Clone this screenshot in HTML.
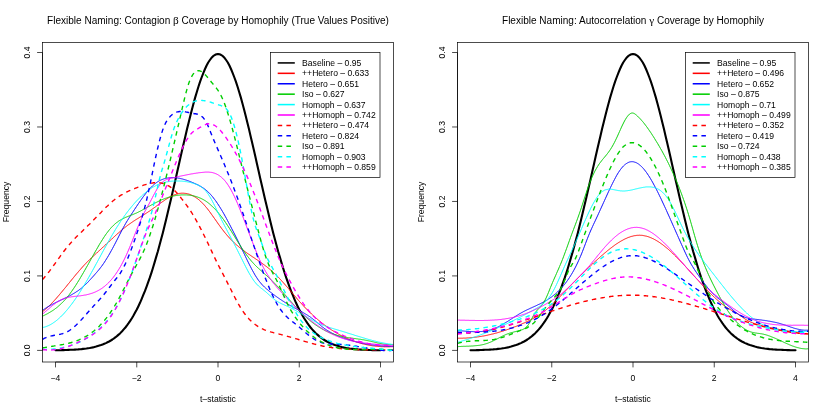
<!DOCTYPE html>
<html><head><meta charset="utf-8"><title>Flexible Naming Coverage</title>
<style>html,body{margin:0;padding:0;background:#fff}svg{display:block;font-family:"Liberation Sans",sans-serif;fill:#000}svg{will-change:transform}</style></head><body>
<svg width="830" height="415" viewBox="0 0 830 415">
<rect width="830" height="415" fill="#fff"/>
<defs><clipPath id="clip0"><rect x="42.5" y="42.5" width="351.0" height="319.5"/></clipPath><clipPath id="clip415"><rect x="457.5" y="42.5" width="351.0" height="319.5"/></clipPath></defs>
<g clip-path="url(#clip0)" fill="none" stroke-linejoin="round">
<path d="M55.5,350.2 L57.1,350.2 L58.8,350.2 L60.4,350.2 L62.0,350.1 L63.6,350.1 L65.2,350.0 L66.9,350.0 L68.5,349.9 L70.1,349.8 L71.8,349.8 L73.4,349.7 L75.0,349.6 L76.6,349.5 L78.2,349.4 L79.9,349.2 L81.5,349.1 L83.1,348.9 L84.8,348.7 L86.4,348.5 L88.0,348.2 L89.6,348.0 L91.2,347.7 L92.9,347.4 L94.5,347.0 L96.1,346.6 L97.8,346.1 L99.4,345.6 L101.0,345.1 L102.6,344.5 L104.3,343.8 L105.9,343.1 L107.5,342.3 L109.1,341.5 L110.8,340.5 L112.4,339.5 L114.0,338.4 L115.6,337.2 L117.2,335.9 L118.9,334.4 L120.5,332.9 L122.1,331.2 L123.7,329.4 L125.4,327.5 L127.0,325.4 L128.6,323.2 L130.2,320.8 L131.9,318.2 L133.5,315.5 L135.1,312.6 L136.8,309.5 L138.4,306.2 L140.0,302.8 L141.6,299.1 L143.2,295.2 L144.9,291.2 L146.5,286.9 L148.1,282.4 L149.8,277.7 L151.4,272.8 L153.0,267.7 L154.6,262.4 L156.2,256.9 L157.9,251.2 L159.5,245.3 L161.1,239.2 L162.8,232.9 L164.4,226.5 L166.0,220.0 L167.6,213.3 L169.2,206.4 L170.9,199.5 L172.5,192.5 L174.1,185.4 L175.8,178.3 L177.4,171.1 L179.0,163.9 L180.6,156.8 L182.2,149.7 L183.9,142.6 L185.5,135.7 L187.1,128.8 L188.8,122.1 L190.4,115.6 L192.0,109.3 L193.6,103.2 L195.2,97.4 L196.9,91.8 L198.5,86.5 L200.1,81.6 L201.8,77.0 L203.4,72.8 L205.0,69.0 L206.6,65.5 L208.2,62.5 L209.9,60.0 L211.5,57.8 L213.1,56.2 L214.8,55.0 L216.4,54.3 L218.0,54.0 L219.6,54.3 L221.2,55.0 L222.9,56.2 L224.5,57.8 L226.1,60.0 L227.8,62.5 L229.4,65.5 L231.0,69.0 L232.6,72.8 L234.2,77.0 L235.9,81.6 L237.5,86.5 L239.1,91.8 L240.8,97.4 L242.4,103.2 L244.0,109.3 L245.6,115.6 L247.2,122.1 L248.9,128.8 L250.5,135.7 L252.1,142.6 L253.8,149.7 L255.4,156.8 L257.0,163.9 L258.6,171.1 L260.2,178.3 L261.9,185.4 L263.5,192.5 L265.1,199.5 L266.8,206.4 L268.4,213.3 L270.0,220.0 L271.6,226.5 L273.2,232.9 L274.9,239.2 L276.5,245.3 L278.1,251.2 L279.8,256.9 L281.4,262.4 L283.0,267.7 L284.6,272.8 L286.2,277.7 L287.9,282.4 L289.5,286.9 L291.1,291.2 L292.8,295.2 L294.4,299.1 L296.0,302.8 L297.6,306.2 L299.2,309.5 L300.9,312.6 L302.5,315.5 L304.1,318.2 L305.8,320.8 L307.4,323.2 L309.0,325.4 L310.6,327.5 L312.2,329.4 L313.9,331.2 L315.5,332.9 L317.1,334.4 L318.8,335.9 L320.4,337.2 L322.0,338.4 L323.6,339.5 L325.2,340.5 L326.9,341.5 L328.5,342.3 L330.1,343.1 L331.8,343.8 L333.4,344.5 L335.0,345.1 L336.6,345.6 L338.2,346.1 L339.9,346.6 L341.5,347.0 L343.1,347.4 L344.8,347.7 L346.4,348.0 L348.0,348.2 L349.6,348.5 L351.2,348.7 L352.9,348.9 L354.5,349.1 L356.1,349.2 L357.8,349.4 L359.4,349.5 L361.0,349.6 L362.6,349.7 L364.2,349.8 L365.9,349.8 L367.5,349.9 L369.1,350.0 L370.8,350.0 L372.4,350.1 L374.0,350.1 L375.6,350.2 L377.2,350.2 L378.9,350.2 L380.5,350.2" stroke="#000" stroke-width="2.1" stroke-linecap="round"/>
<path d="M42.5,311.7 L43.5,310.9 L44.5,310.1 L45.5,309.2 L46.5,308.3 L47.5,307.4 L48.5,306.5 L49.5,305.5 L50.5,304.5 L51.5,303.5 L52.5,302.4 L53.5,301.4 L54.5,300.3 L55.5,299.2 L56.5,298.1 L57.5,296.9 L58.5,295.8 L59.5,294.6 L60.5,293.4 L61.5,292.2 L62.5,291.0 L63.5,289.8 L64.5,288.6 L65.5,287.4 L66.5,286.2 L67.5,284.9 L68.5,283.7 L69.5,282.5 L70.5,281.2 L71.5,280.0 L72.5,278.8 L73.5,277.6 L74.5,276.3 L75.5,275.1 L76.5,273.9 L77.5,272.8 L78.5,271.6 L79.5,270.4 L80.5,269.3 L81.5,268.1 L82.5,267.0 L83.5,265.9 L84.5,264.8 L85.5,263.8 L86.5,262.7 L87.5,261.7 L88.5,260.7 L89.5,259.7 L90.5,258.8 L91.5,257.8 L92.5,256.9 L93.5,255.9 L94.5,255.0 L95.5,254.1 L96.5,253.2 L97.5,252.2 L98.5,251.3 L99.5,250.4 L100.5,249.5 L101.5,248.6 L102.5,247.7 L103.5,246.7 L104.5,245.8 L105.5,244.9 L106.5,243.9 L107.5,243.0 L108.5,242.1 L109.5,241.1 L110.5,240.2 L111.5,239.3 L112.5,238.3 L113.5,237.4 L114.5,236.5 L115.5,235.6 L116.5,234.6 L117.5,233.7 L118.5,232.9 L119.5,232.0 L120.5,231.1 L121.5,230.3 L122.5,229.4 L123.5,228.6 L124.5,227.8 L125.5,227.0 L126.5,226.2 L127.5,225.4 L128.5,224.7 L129.5,224.0 L130.5,223.3 L131.5,222.6 L132.5,221.9 L133.5,221.2 L134.5,220.6 L135.5,219.9 L136.5,219.3 L137.5,218.7 L138.5,218.1 L139.5,217.4 L140.5,216.8 L141.5,216.2 L142.5,215.6 L143.5,214.9 L144.5,214.3 L145.5,213.7 L146.5,213.0 L147.5,212.4 L148.5,211.7 L149.5,211.1 L150.5,210.4 L151.5,209.7 L152.5,208.9 L153.5,208.2 L154.5,207.5 L155.5,206.8 L156.5,206.0 L157.5,205.3 L158.5,204.5 L159.5,203.8 L160.5,203.1 L161.5,202.4 L162.5,201.7 L163.5,201.0 L164.5,200.3 L165.5,199.6 L166.5,199.0 L167.5,198.4 L168.5,197.8 L169.5,197.2 L170.5,196.7 L171.5,196.1 L172.5,195.7 L173.5,195.2 L174.5,194.8 L175.5,194.5 L176.5,194.1 L177.5,193.9 L178.5,193.6 L179.5,193.4 L180.5,193.3 L181.5,193.2 L182.5,193.2 L183.5,193.2 L184.5,193.3 L185.5,193.4 L186.5,193.5 L187.5,193.8 L188.5,194.0 L189.5,194.3 L190.5,194.7 L191.5,195.1 L192.5,195.6 L193.5,196.1 L194.5,196.7 L195.5,197.3 L196.5,198.0 L197.5,198.7 L198.5,199.5 L199.5,200.3 L200.5,201.2 L201.5,202.2 L202.5,203.2 L203.5,204.2 L204.5,205.3 L205.5,206.5 L206.5,207.7 L207.5,208.9 L208.5,210.2 L209.5,211.5 L210.5,212.9 L211.5,214.3 L212.5,215.7 L213.5,217.1 L214.5,218.5 L215.5,219.9 L216.5,221.3 L217.5,222.8 L218.5,224.2 L219.5,225.6 L220.5,226.9 L221.5,228.3 L222.5,229.6 L223.5,230.9 L224.5,232.2 L225.5,233.4 L226.5,234.6 L227.5,235.8 L228.5,236.9 L229.5,238.0 L230.5,239.1 L231.5,240.1 L232.5,241.1 L233.5,242.1 L234.5,243.1 L235.5,244.0 L236.5,244.9 L237.5,245.7 L238.5,246.6 L239.5,247.4 L240.5,248.2 L241.5,249.0 L242.5,249.8 L243.5,250.5 L244.5,251.2 L245.5,252.0 L246.5,252.7 L247.5,253.4 L248.5,254.1 L249.5,254.7 L250.5,255.4 L251.5,256.1 L252.5,256.8 L253.5,257.4 L254.5,258.1 L255.5,258.8 L256.5,259.5 L257.5,260.1 L258.5,260.8 L259.5,261.5 L260.5,262.2 L261.5,262.9 L262.5,263.6 L263.5,264.4 L264.5,265.1 L265.5,265.9 L266.5,266.6 L267.5,267.4 L268.5,268.2 L269.5,269.0 L270.5,269.9 L271.5,270.7 L272.5,271.6 L273.5,272.5 L274.5,273.5 L275.5,274.4 L276.5,275.4 L277.5,276.4 L278.5,277.4 L279.5,278.5 L280.5,279.6 L281.5,280.7 L282.5,281.8 L283.5,282.9 L284.5,284.0 L285.5,285.2 L286.5,286.3 L287.5,287.5 L288.5,288.6 L289.5,289.8 L290.5,291.0 L291.5,292.2 L292.5,293.4 L293.5,294.5 L294.5,295.7 L295.5,296.9 L296.5,298.0 L297.5,299.2 L298.5,300.4 L299.5,301.5 L300.5,302.6 L301.5,303.7 L302.5,304.8 L303.5,305.9 L304.5,307.0 L305.5,308.0 L306.5,309.0 L307.5,310.0 L308.5,311.0 L309.5,312.0 L310.5,313.0 L311.5,314.0 L312.5,314.9 L313.5,315.8 L314.5,316.7 L315.5,317.6 L316.5,318.5 L317.5,319.3 L318.5,320.2 L319.5,321.0 L320.5,321.8 L321.5,322.6 L322.5,323.4 L323.5,324.2 L324.5,325.0 L325.5,325.7 L326.5,326.4 L327.5,327.1 L328.5,327.8 L329.5,328.5 L330.5,329.2 L331.5,329.9 L332.5,330.5 L333.5,331.1 L334.5,331.7 L335.5,332.4 L336.5,332.9 L337.5,333.5 L338.5,334.1 L339.5,334.6 L340.5,335.2 L341.5,335.7 L342.5,336.2 L343.5,336.7 L344.5,337.2 L345.5,337.6 L346.5,338.1 L347.5,338.6 L348.5,339.0 L349.5,339.4 L350.5,339.8 L351.5,340.2 L352.5,340.6 L353.5,341.0 L354.5,341.3 L355.5,341.7 L356.5,342.0 L357.5,342.3 L358.5,342.6 L359.5,342.9 L360.5,343.2 L361.5,343.5 L362.5,343.8 L363.5,344.0 L364.5,344.2 L365.5,344.5 L366.5,344.7 L367.5,344.9 L368.5,345.1 L369.5,345.3 L370.5,345.5 L371.5,345.6 L372.5,345.8 L373.5,345.9 L374.5,346.0 L375.5,346.2 L376.5,346.3 L377.5,346.4 L378.5,346.5 L379.5,346.5 L380.5,346.6 L381.5,346.7 L382.5,346.7 L383.5,346.7 L384.5,346.8 L385.5,346.8 L386.5,346.8 L387.5,346.8 L388.5,346.8 L389.5,346.8 L390.5,346.7 L391.5,346.7 L392.5,346.7 L393.5,346.6" stroke="#ff0000" stroke-width="0.95"/>
<path d="M42.5,310.4 L43.5,309.7 L44.5,309.0 L45.5,308.3 L46.5,307.7 L47.5,307.0 L48.5,306.4 L49.5,305.9 L50.5,305.3 L51.5,304.8 L52.5,304.2 L53.5,303.7 L54.5,303.2 L55.5,302.7 L56.5,302.2 L57.5,301.7 L58.5,301.2 L59.5,300.8 L60.5,300.3 L61.5,299.8 L62.5,299.4 L63.5,298.9 L64.5,298.4 L65.5,297.9 L66.5,297.4 L67.5,296.9 L68.5,296.4 L69.5,295.9 L70.5,295.3 L71.5,294.8 L72.5,294.2 L73.5,293.6 L74.5,293.0 L75.5,292.4 L76.5,291.7 L77.5,291.1 L78.5,290.4 L79.5,289.6 L80.5,288.9 L81.5,288.1 L82.5,287.2 L83.5,286.4 L84.5,285.5 L85.5,284.5 L86.5,283.6 L87.5,282.6 L88.5,281.5 L89.5,280.4 L90.5,279.3 L91.5,278.2 L92.5,277.1 L93.5,276.0 L94.5,274.9 L95.5,273.7 L96.5,272.6 L97.5,271.4 L98.5,270.2 L99.5,269.0 L100.5,267.7 L101.5,266.4 L102.5,265.0 L103.5,263.6 L104.5,262.1 L105.5,260.5 L106.5,258.9 L107.5,257.3 L108.5,255.6 L109.5,253.9 L110.5,252.1 L111.5,250.3 L112.5,248.5 L113.5,246.6 L114.5,244.7 L115.5,242.8 L116.5,240.8 L117.5,238.9 L118.5,236.9 L119.5,234.9 L120.5,233.0 L121.5,231.0 L122.5,229.1 L123.5,227.3 L124.5,225.5 L125.5,223.7 L126.5,222.0 L127.5,220.4 L128.5,218.8 L129.5,217.2 L130.5,215.7 L131.5,214.1 L132.5,212.6 L133.5,211.1 L134.5,209.5 L135.5,208.0 L136.5,206.5 L137.5,205.0 L138.5,203.5 L139.5,202.1 L140.5,200.6 L141.5,199.2 L142.5,197.8 L143.5,196.4 L144.5,195.1 L145.5,193.8 L146.5,192.5 L147.5,191.3 L148.5,190.1 L149.5,189.0 L150.5,187.9 L151.5,186.9 L152.5,185.9 L153.5,185.0 L154.5,184.1 L155.5,183.3 L156.5,182.6 L157.5,181.9 L158.5,181.3 L159.5,180.7 L160.5,180.2 L161.5,179.8 L162.5,179.4 L163.5,179.0 L164.5,178.7 L165.5,178.4 L166.5,178.2 L167.5,178.0 L168.5,177.9 L169.5,177.7 L170.5,177.7 L171.5,177.6 L172.5,177.6 L173.5,177.6 L174.5,177.7 L175.5,177.8 L176.5,177.9 L177.5,178.0 L178.5,178.2 L179.5,178.3 L180.5,178.6 L181.5,178.8 L182.5,179.0 L183.5,179.3 L184.5,179.6 L185.5,179.9 L186.5,180.2 L187.5,180.6 L188.5,180.9 L189.5,181.3 L190.5,181.7 L191.5,182.1 L192.5,182.5 L193.5,182.9 L194.5,183.4 L195.5,183.8 L196.5,184.3 L197.5,184.7 L198.5,185.2 L199.5,185.8 L200.5,186.3 L201.5,186.9 L202.5,187.5 L203.5,188.2 L204.5,188.9 L205.5,189.7 L206.5,190.5 L207.5,191.4 L208.5,192.3 L209.5,193.3 L210.5,194.4 L211.5,195.5 L212.5,196.7 L213.5,198.0 L214.5,199.3 L215.5,200.6 L216.5,202.0 L217.5,203.5 L218.5,205.0 L219.5,206.6 L220.5,208.2 L221.5,209.8 L222.5,211.5 L223.5,213.2 L224.5,215.0 L225.5,216.8 L226.5,218.6 L227.5,220.5 L228.5,222.4 L229.5,224.3 L230.5,226.2 L231.5,228.2 L232.5,230.1 L233.5,232.1 L234.5,234.0 L235.5,236.0 L236.5,238.0 L237.5,240.0 L238.5,242.1 L239.5,244.1 L240.5,246.2 L241.5,248.2 L242.5,250.3 L243.5,252.4 L244.5,254.5 L245.5,256.6 L246.5,258.7 L247.5,260.8 L248.5,262.8 L249.5,264.8 L250.5,266.7 L251.5,268.7 L252.5,270.5 L253.5,272.3 L254.5,274.1 L255.5,275.8 L256.5,277.3 L257.5,278.9 L258.5,280.3 L259.5,281.6 L260.5,282.8 L261.5,284.0 L262.5,285.1 L263.5,286.1 L264.5,287.1 L265.5,288.0 L266.5,288.9 L267.5,289.7 L268.5,290.6 L269.5,291.4 L270.5,292.2 L271.5,292.9 L272.5,293.7 L273.5,294.5 L274.5,295.2 L275.5,296.0 L276.5,296.7 L277.5,297.4 L278.5,298.1 L279.5,298.8 L280.5,299.5 L281.5,300.1 L282.5,300.8 L283.5,301.4 L284.5,302.1 L285.5,302.7 L286.5,303.3 L287.5,303.9 L288.5,304.5 L289.5,305.1 L290.5,305.7 L291.5,306.2 L292.5,306.8 L293.5,307.3 L294.5,307.9 L295.5,308.4 L296.5,309.0 L297.5,309.5 L298.5,310.0 L299.5,310.6 L300.5,311.1 L301.5,311.7 L302.5,312.2 L303.5,312.8 L304.5,313.4 L305.5,314.0 L306.5,314.6 L307.5,315.2 L308.5,315.9 L309.5,316.5 L310.5,317.2 L311.5,318.0 L312.5,318.7 L313.5,319.5 L314.5,320.3 L315.5,321.1 L316.5,322.0 L317.5,322.8 L318.5,323.7 L319.5,324.5 L320.5,325.3 L321.5,326.2 L322.5,327.0 L323.5,327.7 L324.5,328.5 L325.5,329.2 L326.5,329.9 L327.5,330.5 L328.5,331.1 L329.5,331.7 L330.5,332.3 L331.5,332.9 L332.5,333.4 L333.5,333.9 L334.5,334.4 L335.5,334.9 L336.5,335.3 L337.5,335.8 L338.5,336.2 L339.5,336.6 L340.5,337.0 L341.5,337.3 L342.5,337.7 L343.5,338.0 L344.5,338.4 L345.5,338.7 L346.5,339.0 L347.5,339.4 L348.5,339.7 L349.5,340.0 L350.5,340.3 L351.5,340.6 L352.5,340.8 L353.5,341.1 L354.5,341.4 L355.5,341.6 L356.5,341.9 L357.5,342.1 L358.5,342.4 L359.5,342.6 L360.5,342.8 L361.5,343.0 L362.5,343.2 L363.5,343.4 L364.5,343.6 L365.5,343.8 L366.5,344.0 L367.5,344.1 L368.5,344.3 L369.5,344.5 L370.5,344.6 L371.5,344.8 L372.5,344.9 L373.5,345.0 L374.5,345.1 L375.5,345.3 L376.5,345.4 L377.5,345.5 L378.5,345.6 L379.5,345.7 L380.5,345.8 L381.5,345.9 L382.5,345.9 L383.5,346.0 L384.5,346.1 L385.5,346.1 L386.5,346.2 L387.5,346.2 L388.5,346.3 L389.5,346.3 L390.5,346.3 L391.5,346.4 L392.5,346.4 L393.5,346.4" stroke="#0000ff" stroke-width="0.95"/>
<path d="M42.5,316.1 L43.5,315.7 L44.5,315.2 L45.5,314.7 L46.5,314.2 L47.5,313.7 L48.5,313.1 L49.5,312.5 L50.5,311.9 L51.5,311.3 L52.5,310.7 L53.5,310.0 L54.5,309.3 L55.5,308.5 L56.5,307.8 L57.5,307.0 L58.5,306.1 L59.5,305.2 L60.5,304.3 L61.5,303.4 L62.5,302.4 L63.5,301.4 L64.5,300.3 L65.5,299.2 L66.5,298.0 L67.5,296.8 L68.5,295.6 L69.5,294.3 L70.5,292.9 L71.5,291.6 L72.5,290.1 L73.5,288.7 L74.5,287.2 L75.5,285.7 L76.5,284.1 L77.5,282.5 L78.5,280.9 L79.5,279.3 L80.5,277.6 L81.5,275.9 L82.5,274.2 L83.5,272.5 L84.5,270.7 L85.5,269.0 L86.5,267.2 L87.5,265.5 L88.5,263.7 L89.5,261.9 L90.5,260.1 L91.5,258.3 L92.5,256.6 L93.5,254.8 L94.5,253.0 L95.5,251.2 L96.5,249.5 L97.5,247.8 L98.5,246.0 L99.5,244.3 L100.5,242.7 L101.5,241.1 L102.5,239.5 L103.5,237.9 L104.5,236.4 L105.5,234.9 L106.5,233.5 L107.5,232.2 L108.5,230.9 L109.5,229.6 L110.5,228.5 L111.5,227.3 L112.5,226.3 L113.5,225.3 L114.5,224.4 L115.5,223.5 L116.5,222.7 L117.5,222.0 L118.5,221.2 L119.5,220.6 L120.5,220.0 L121.5,219.4 L122.5,218.9 L123.5,218.4 L124.5,217.9 L125.5,217.4 L126.5,217.0 L127.5,216.6 L128.5,216.2 L129.5,215.8 L130.5,215.4 L131.5,215.0 L132.5,214.7 L133.5,214.3 L134.5,213.8 L135.5,213.4 L136.5,213.0 L137.5,212.5 L138.5,212.0 L139.5,211.5 L140.5,211.0 L141.5,210.5 L142.5,209.9 L143.5,209.4 L144.5,208.9 L145.5,208.3 L146.5,207.7 L147.5,207.2 L148.5,206.6 L149.5,206.1 L150.5,205.5 L151.5,204.9 L152.5,204.4 L153.5,203.9 L154.5,203.3 L155.5,202.8 L156.5,202.3 L157.5,201.8 L158.5,201.3 L159.5,200.8 L160.5,200.3 L161.5,199.9 L162.5,199.5 L163.5,199.1 L164.5,198.7 L165.5,198.3 L166.5,198.0 L167.5,197.6 L168.5,197.3 L169.5,197.0 L170.5,196.7 L171.5,196.5 L172.5,196.2 L173.5,196.0 L174.5,195.8 L175.5,195.6 L176.5,195.4 L177.5,195.3 L178.5,195.2 L179.5,195.1 L180.5,195.0 L181.5,194.9 L182.5,194.9 L183.5,194.9 L184.5,194.9 L185.5,194.9 L186.5,194.9 L187.5,195.0 L188.5,195.1 L189.5,195.2 L190.5,195.3 L191.5,195.5 L192.5,195.7 L193.5,195.9 L194.5,196.1 L195.5,196.4 L196.5,196.7 L197.5,197.0 L198.5,197.4 L199.5,197.8 L200.5,198.2 L201.5,198.7 L202.5,199.2 L203.5,199.7 L204.5,200.3 L205.5,200.9 L206.5,201.6 L207.5,202.3 L208.5,203.1 L209.5,203.9 L210.5,204.8 L211.5,205.7 L212.5,206.6 L213.5,207.6 L214.5,208.6 L215.5,209.6 L216.5,210.7 L217.5,211.9 L218.5,213.1 L219.5,214.3 L220.5,215.5 L221.5,216.8 L222.5,218.2 L223.5,219.5 L224.5,221.0 L225.5,222.4 L226.5,223.9 L227.5,225.4 L228.5,226.9 L229.5,228.5 L230.5,230.0 L231.5,231.6 L232.5,233.2 L233.5,234.8 L234.5,236.4 L235.5,238.1 L236.5,239.7 L237.5,241.3 L238.5,242.9 L239.5,244.4 L240.5,246.0 L241.5,247.6 L242.5,249.1 L243.5,250.6 L244.5,252.0 L245.5,253.5 L246.5,254.9 L247.5,256.2 L248.5,257.5 L249.5,258.8 L250.5,260.0 L251.5,261.2 L252.5,262.3 L253.5,263.4 L254.5,264.5 L255.5,265.5 L256.5,266.5 L257.5,267.4 L258.5,268.4 L259.5,269.3 L260.5,270.2 L261.5,271.1 L262.5,272.0 L263.5,272.9 L264.5,273.8 L265.5,274.7 L266.5,275.5 L267.5,276.4 L268.5,277.4 L269.5,278.3 L270.5,279.2 L271.5,280.2 L272.5,281.2 L273.5,282.2 L274.5,283.2 L275.5,284.2 L276.5,285.3 L277.5,286.4 L278.5,287.5 L279.5,288.6 L280.5,289.7 L281.5,290.8 L282.5,291.9 L283.5,293.0 L284.5,294.2 L285.5,295.3 L286.5,296.5 L287.5,297.6 L288.5,298.8 L289.5,299.9 L290.5,301.1 L291.5,302.2 L292.5,303.3 L293.5,304.4 L294.5,305.5 L295.5,306.6 L296.5,307.7 L297.5,308.8 L298.5,309.9 L299.5,310.9 L300.5,311.9 L301.5,312.9 L302.5,313.9 L303.5,314.9 L304.5,315.8 L305.5,316.7 L306.5,317.6 L307.5,318.5 L308.5,319.4 L309.5,320.2 L310.5,321.0 L311.5,321.8 L312.5,322.6 L313.5,323.3 L314.5,324.1 L315.5,324.8 L316.5,325.5 L317.5,326.1 L318.5,326.8 L319.5,327.4 L320.5,328.0 L321.5,328.6 L322.5,329.2 L323.5,329.7 L324.5,330.3 L325.5,330.8 L326.5,331.3 L327.5,331.7 L328.5,332.2 L329.5,332.6 L330.5,333.0 L331.5,333.4 L332.5,333.8 L333.5,334.1 L334.5,334.5 L335.5,334.8 L336.5,335.1 L337.5,335.4 L338.5,335.7 L339.5,335.9 L340.5,336.1 L341.5,336.4 L342.5,336.6 L343.5,336.8 L344.5,337.0 L345.5,337.2 L346.5,337.3 L347.5,337.5 L348.5,337.7 L349.5,337.8 L350.5,337.9 L351.5,338.1 L352.5,338.2 L353.5,338.4 L354.5,338.5 L355.5,338.6 L356.5,338.8 L357.5,338.9 L358.5,339.1 L359.5,339.2 L360.5,339.3 L361.5,339.5 L362.5,339.7 L363.5,339.8 L364.5,340.0 L365.5,340.2 L366.5,340.4 L367.5,340.6 L368.5,340.8 L369.5,341.0 L370.5,341.2 L371.5,341.5 L372.5,341.7 L373.5,341.9 L374.5,342.2 L375.5,342.4 L376.5,342.6 L377.5,342.9 L378.5,343.1 L379.5,343.3 L380.5,343.5 L381.5,343.7 L382.5,343.9 L383.5,344.1 L384.5,344.2 L385.5,344.3 L386.5,344.5 L387.5,344.6 L388.5,344.6 L389.5,344.7 L390.5,344.7 L391.5,344.7 L392.5,344.7 L393.5,344.6" stroke="#00cd00" stroke-width="0.95"/>
<path d="M42.5,327.5 L43.5,327.3 L44.5,327.1 L45.5,326.8 L46.5,326.4 L47.5,326.0 L48.5,325.6 L49.5,325.1 L50.5,324.6 L51.5,324.0 L52.5,323.4 L53.5,322.7 L54.5,322.0 L55.5,321.3 L56.5,320.5 L57.5,319.7 L58.5,318.8 L59.5,317.9 L60.5,317.0 L61.5,316.0 L62.5,315.0 L63.5,314.0 L64.5,312.9 L65.5,311.7 L66.5,310.6 L67.5,309.4 L68.5,308.2 L69.5,306.9 L70.5,305.6 L71.5,304.3 L72.5,303.0 L73.5,301.6 L74.5,300.2 L75.5,298.8 L76.5,297.3 L77.5,295.8 L78.5,294.3 L79.5,292.7 L80.5,291.2 L81.5,289.6 L82.5,287.9 L83.5,286.3 L84.5,284.6 L85.5,282.9 L86.5,281.2 L87.5,279.5 L88.5,277.7 L89.5,276.0 L90.5,274.2 L91.5,272.4 L92.5,270.6 L93.5,268.8 L94.5,267.0 L95.5,265.1 L96.5,263.3 L97.5,261.5 L98.5,259.6 L99.5,257.8 L100.5,255.9 L101.5,254.1 L102.5,252.2 L103.5,250.4 L104.5,248.6 L105.5,246.8 L106.5,245.0 L107.5,243.2 L108.5,241.4 L109.5,239.6 L110.5,237.9 L111.5,236.2 L112.5,234.4 L113.5,232.8 L114.5,231.1 L115.5,229.4 L116.5,227.8 L117.5,226.2 L118.5,224.7 L119.5,223.1 L120.5,221.6 L121.5,220.1 L122.5,218.7 L123.5,217.3 L124.5,215.8 L125.5,214.5 L126.5,213.1 L127.5,211.8 L128.5,210.5 L129.5,209.2 L130.5,208.0 L131.5,206.8 L132.5,205.6 L133.5,204.4 L134.5,203.2 L135.5,202.1 L136.5,201.0 L137.5,200.0 L138.5,199.0 L139.5,198.0 L140.5,197.0 L141.5,196.0 L142.5,195.1 L143.5,194.2 L144.5,193.4 L145.5,192.5 L146.5,191.7 L147.5,190.9 L148.5,190.2 L149.5,189.5 L150.5,188.8 L151.5,188.1 L152.5,187.5 L153.5,186.9 L154.5,186.4 L155.5,185.8 L156.5,185.3 L157.5,184.8 L158.5,184.4 L159.5,184.0 L160.5,183.6 L161.5,183.3 L162.5,183.0 L163.5,182.7 L164.5,182.4 L165.5,182.2 L166.5,181.9 L167.5,181.8 L168.5,181.6 L169.5,181.4 L170.5,181.3 L171.5,181.2 L172.5,181.1 L173.5,181.1 L174.5,181.0 L175.5,181.0 L176.5,181.0 L177.5,181.0 L178.5,181.0 L179.5,181.0 L180.5,181.1 L181.5,181.1 L182.5,181.2 L183.5,181.3 L184.5,181.4 L185.5,181.6 L186.5,181.7 L187.5,181.9 L188.5,182.1 L189.5,182.3 L190.5,182.5 L191.5,182.8 L192.5,183.1 L193.5,183.4 L194.5,183.7 L195.5,184.1 L196.5,184.4 L197.5,184.9 L198.5,185.3 L199.5,185.9 L200.5,186.4 L201.5,187.1 L202.5,187.9 L203.5,188.7 L204.5,189.7 L205.5,190.7 L206.5,191.9 L207.5,193.2 L208.5,194.6 L209.5,196.2 L210.5,197.9 L211.5,199.6 L212.5,201.5 L213.5,203.4 L214.5,205.4 L215.5,207.4 L216.5,209.5 L217.5,211.6 L218.5,213.7 L219.5,215.7 L220.5,217.7 L221.5,219.7 L222.5,221.7 L223.5,223.6 L224.5,225.6 L225.5,227.5 L226.5,229.4 L227.5,231.3 L228.5,233.2 L229.5,235.1 L230.5,237.0 L231.5,238.9 L232.5,240.7 L233.5,242.6 L234.5,244.6 L235.5,246.5 L236.5,248.4 L237.5,250.4 L238.5,252.4 L239.5,254.4 L240.5,256.4 L241.5,258.4 L242.5,260.4 L243.5,262.4 L244.5,264.4 L245.5,266.4 L246.5,268.3 L247.5,270.2 L248.5,272.1 L249.5,273.8 L250.5,275.5 L251.5,277.2 L252.5,278.7 L253.5,280.2 L254.5,281.6 L255.5,282.8 L256.5,284.0 L257.5,285.0 L258.5,286.0 L259.5,286.8 L260.5,287.7 L261.5,288.5 L262.5,289.2 L263.5,290.0 L264.5,290.8 L265.5,291.6 L266.5,292.5 L267.5,293.4 L268.5,294.3 L269.5,295.2 L270.5,296.1 L271.5,297.0 L272.5,297.9 L273.5,298.7 L274.5,299.6 L275.5,300.3 L276.5,301.0 L277.5,301.6 L278.5,302.2 L279.5,302.7 L280.5,303.2 L281.5,303.7 L282.5,304.2 L283.5,304.6 L284.5,305.0 L285.5,305.5 L286.5,305.9 L287.5,306.3 L288.5,306.8 L289.5,307.3 L290.5,307.8 L291.5,308.3 L292.5,308.8 L293.5,309.4 L294.5,309.9 L295.5,310.5 L296.5,311.0 L297.5,311.6 L298.5,312.2 L299.5,312.8 L300.5,313.3 L301.5,313.9 L302.5,314.5 L303.5,315.1 L304.5,315.7 L305.5,316.3 L306.5,316.9 L307.5,317.4 L308.5,318.0 L309.5,318.6 L310.5,319.1 L311.5,319.7 L312.5,320.2 L313.5,320.8 L314.5,321.3 L315.5,321.8 L316.5,322.3 L317.5,322.8 L318.5,323.3 L319.5,323.7 L320.5,324.1 L321.5,324.6 L322.5,325.0 L323.5,325.4 L324.5,325.7 L325.5,326.1 L326.5,326.5 L327.5,326.8 L328.5,327.1 L329.5,327.5 L330.5,327.8 L331.5,328.1 L332.5,328.4 L333.5,328.7 L334.5,329.0 L335.5,329.3 L336.5,329.6 L337.5,329.9 L338.5,330.2 L339.5,330.5 L340.5,330.8 L341.5,331.1 L342.5,331.4 L343.5,331.7 L344.5,332.0 L345.5,332.3 L346.5,332.6 L347.5,333.0 L348.5,333.3 L349.5,333.6 L350.5,333.9 L351.5,334.2 L352.5,334.5 L353.5,334.8 L354.5,335.2 L355.5,335.5 L356.5,335.8 L357.5,336.1 L358.5,336.4 L359.5,336.7 L360.5,337.0 L361.5,337.3 L362.5,337.6 L363.5,337.9 L364.5,338.2 L365.5,338.5 L366.5,338.8 L367.5,339.1 L368.5,339.4 L369.5,339.7 L370.5,339.9 L371.5,340.2 L372.5,340.5 L373.5,340.7 L374.5,341.0 L375.5,341.2 L376.5,341.5 L377.5,341.7 L378.5,342.0 L379.5,342.2 L380.5,342.4 L381.5,342.6 L382.5,342.8 L383.5,343.0 L384.5,343.2 L385.5,343.4 L386.5,343.5 L387.5,343.7 L388.5,343.9 L389.5,344.0 L390.5,344.1 L391.5,344.3 L392.5,344.4 L393.5,344.5" stroke="#00ffff" stroke-width="0.95"/>
<path d="M42.5,314.0 L43.5,313.2 L44.5,312.4 L45.5,311.5 L46.5,310.7 L47.5,309.8 L48.5,309.0 L49.5,308.1 L50.5,307.2 L51.5,306.4 L52.5,305.5 L53.5,304.7 L54.5,304.0 L55.5,303.2 L56.5,302.5 L57.5,301.8 L58.5,301.2 L59.5,300.6 L60.5,300.0 L61.5,299.6 L62.5,299.1 L63.5,298.7 L64.5,298.4 L65.5,298.1 L66.5,297.8 L67.5,297.6 L68.5,297.3 L69.5,297.1 L70.5,297.0 L71.5,296.8 L72.5,296.7 L73.5,296.6 L74.5,296.4 L75.5,296.3 L76.5,296.2 L77.5,296.1 L78.5,296.0 L79.5,295.9 L80.5,295.8 L81.5,295.6 L82.5,295.5 L83.5,295.3 L84.5,295.1 L85.5,295.0 L86.5,294.8 L87.5,294.5 L88.5,294.3 L89.5,294.0 L90.5,293.7 L91.5,293.4 L92.5,293.1 L93.5,292.7 L94.5,292.3 L95.5,291.9 L96.5,291.4 L97.5,290.9 L98.5,290.4 L99.5,289.8 L100.5,289.2 L101.5,288.6 L102.5,287.9 L103.5,287.1 L104.5,286.4 L105.5,285.5 L106.5,284.7 L107.5,283.7 L108.5,282.8 L109.5,281.7 L110.5,280.6 L111.5,279.5 L112.5,278.3 L113.5,277.1 L114.5,275.7 L115.5,274.4 L116.5,272.9 L117.5,271.4 L118.5,269.8 L119.5,268.2 L120.5,266.5 L121.5,264.7 L122.5,262.8 L123.5,260.9 L124.5,258.9 L125.5,256.8 L126.5,254.7 L127.5,252.4 L128.5,250.1 L129.5,247.7 L130.5,245.3 L131.5,242.8 L132.5,240.3 L133.5,237.8 L134.5,235.3 L135.5,232.8 L136.5,230.3 L137.5,227.8 L138.5,225.4 L139.5,223.0 L140.5,220.7 L141.5,218.4 L142.5,216.2 L143.5,214.2 L144.5,212.2 L145.5,210.3 L146.5,208.5 L147.5,206.7 L148.5,204.9 L149.5,203.1 L150.5,201.2 L151.5,199.3 L152.5,197.4 L153.5,195.4 L154.5,193.6 L155.5,191.7 L156.5,190.0 L157.5,188.3 L158.5,186.8 L159.5,185.3 L160.5,184.0 L161.5,182.9 L162.5,181.9 L163.5,181.2 L164.5,180.5 L165.5,180.0 L166.5,179.6 L167.5,179.2 L168.5,178.9 L169.5,178.7 L170.5,178.4 L171.5,178.2 L172.5,178.0 L173.5,177.7 L174.5,177.5 L175.5,177.2 L176.5,177.0 L177.5,176.8 L178.5,176.6 L179.5,176.3 L180.5,176.1 L181.5,175.9 L182.5,175.7 L183.5,175.5 L184.5,175.3 L185.5,175.1 L186.5,174.9 L187.5,174.7 L188.5,174.5 L189.5,174.3 L190.5,174.1 L191.5,173.9 L192.5,173.8 L193.5,173.6 L194.5,173.4 L195.5,173.3 L196.5,173.1 L197.5,173.0 L198.5,172.8 L199.5,172.7 L200.5,172.6 L201.5,172.5 L202.5,172.4 L203.5,172.3 L204.5,172.2 L205.5,172.1 L206.5,172.1 L207.5,172.1 L208.5,172.1 L209.5,172.2 L210.5,172.3 L211.5,172.4 L212.5,172.6 L213.5,172.9 L214.5,173.2 L215.5,173.6 L216.5,174.0 L217.5,174.5 L218.5,175.1 L219.5,175.8 L220.5,176.5 L221.5,177.3 L222.5,178.2 L223.5,179.2 L224.5,180.3 L225.5,181.5 L226.5,182.8 L227.5,184.2 L228.5,185.7 L229.5,187.3 L230.5,189.0 L231.5,190.8 L232.5,192.7 L233.5,194.7 L234.5,196.7 L235.5,198.9 L236.5,201.1 L237.5,203.4 L238.5,205.8 L239.5,208.2 L240.5,210.7 L241.5,213.2 L242.5,215.8 L243.5,218.4 L244.5,221.0 L245.5,223.6 L246.5,226.3 L247.5,229.0 L248.5,231.7 L249.5,234.3 L250.5,237.0 L251.5,239.6 L252.5,242.2 L253.5,244.8 L254.5,247.4 L255.5,249.9 L256.5,252.4 L257.5,254.8 L258.5,257.1 L259.5,259.4 L260.5,261.6 L261.5,263.7 L262.5,265.8 L263.5,267.7 L264.5,269.6 L265.5,271.3 L266.5,273.0 L267.5,274.7 L268.5,276.2 L269.5,277.7 L270.5,279.2 L271.5,280.5 L272.5,281.9 L273.5,283.2 L274.5,284.4 L275.5,285.6 L276.5,286.8 L277.5,288.0 L278.5,289.1 L279.5,290.2 L280.5,291.3 L281.5,292.5 L282.5,293.5 L283.5,294.6 L284.5,295.7 L285.5,296.8 L286.5,297.8 L287.5,298.9 L288.5,299.9 L289.5,301.0 L290.5,302.0 L291.5,303.0 L292.5,304.0 L293.5,305.0 L294.5,306.0 L295.5,307.0 L296.5,307.9 L297.5,308.9 L298.5,309.8 L299.5,310.7 L300.5,311.7 L301.5,312.6 L302.5,313.5 L303.5,314.4 L304.5,315.2 L305.5,316.1 L306.5,316.9 L307.5,317.8 L308.5,318.6 L309.5,319.4 L310.5,320.2 L311.5,321.0 L312.5,321.8 L313.5,322.5 L314.5,323.3 L315.5,324.0 L316.5,324.7 L317.5,325.4 L318.5,326.1 L319.5,326.8 L320.5,327.5 L321.5,328.1 L322.5,328.8 L323.5,329.4 L324.5,330.0 L325.5,330.6 L326.5,331.2 L327.5,331.7 L328.5,332.3 L329.5,332.8 L330.5,333.3 L331.5,333.8 L332.5,334.3 L333.5,334.8 L334.5,335.2 L335.5,335.7 L336.5,336.1 L337.5,336.5 L338.5,336.9 L339.5,337.3 L340.5,337.6 L341.5,338.0 L342.5,338.3 L343.5,338.6 L344.5,339.0 L345.5,339.3 L346.5,339.5 L347.5,339.8 L348.5,340.1 L349.5,340.3 L350.5,340.6 L351.5,340.8 L352.5,341.0 L353.5,341.2 L354.5,341.4 L355.5,341.6 L356.5,341.8 L357.5,342.0 L358.5,342.1 L359.5,342.3 L360.5,342.5 L361.5,342.6 L362.5,342.7 L363.5,342.9 L364.5,343.0 L365.5,343.1 L366.5,343.3 L367.5,343.4 L368.5,343.5 L369.5,343.6 L370.5,343.7 L371.5,343.8 L372.5,343.9 L373.5,344.0 L374.5,344.1 L375.5,344.2 L376.5,344.3 L377.5,344.4 L378.5,344.5 L379.5,344.6 L380.5,344.7 L381.5,344.8 L382.5,344.9 L383.5,345.0 L384.5,345.1 L385.5,345.2 L386.5,345.3 L387.5,345.4 L388.5,345.5 L389.5,345.6 L390.5,345.7 L391.5,345.9 L392.5,346.0 L393.5,346.1" stroke="#ff00ff" stroke-width="0.95"/>
<path d="M42.5,279.6 L43.5,278.5 L44.5,277.3 L45.5,276.1 L46.5,274.9 L47.5,273.7 L48.5,272.4 L49.5,271.1 L50.5,269.7 L51.5,268.4 L52.5,267.0 L53.5,265.6 L54.5,264.3 L55.5,262.9 L56.5,261.5 L57.5,260.1 L58.5,258.7 L59.5,257.3 L60.5,255.9 L61.5,254.5 L62.5,253.2 L63.5,251.8 L64.5,250.5 L65.5,249.2 L66.5,248.0 L67.5,246.7 L68.5,245.5 L69.5,244.4 L70.5,243.2 L71.5,242.1 L72.5,241.0 L73.5,239.9 L74.5,238.9 L75.5,237.8 L76.5,236.8 L77.5,235.8 L78.5,234.8 L79.5,233.8 L80.5,232.8 L81.5,231.9 L82.5,230.9 L83.5,229.9 L84.5,229.0 L85.5,228.0 L86.5,227.1 L87.5,226.1 L88.5,225.1 L89.5,224.2 L90.5,223.2 L91.5,222.2 L92.5,221.2 L93.5,220.1 L94.5,219.1 L95.5,218.1 L96.5,217.1 L97.5,216.0 L98.5,215.0 L99.5,213.9 L100.5,212.9 L101.5,211.9 L102.5,210.8 L103.5,209.8 L104.5,208.8 L105.5,207.8 L106.5,206.8 L107.5,205.9 L108.5,204.9 L109.5,204.0 L110.5,203.1 L111.5,202.2 L112.5,201.3 L113.5,200.5 L114.5,199.7 L115.5,198.9 L116.5,198.1 L117.5,197.4 L118.5,196.7 L119.5,196.1 L120.5,195.4 L121.5,194.8 L122.5,194.3 L123.5,193.7 L124.5,193.1 L125.5,192.6 L126.5,192.1 L127.5,191.6 L128.5,191.2 L129.5,190.7 L130.5,190.3 L131.5,189.8 L132.5,189.4 L133.5,189.0 L134.5,188.6 L135.5,188.2 L136.5,187.8 L137.5,187.4 L138.5,187.1 L139.5,186.7 L140.5,186.3 L141.5,185.9 L142.5,185.6 L143.5,185.2 L144.5,184.9 L145.5,184.6 L146.5,184.3 L147.5,184.0 L148.5,183.7 L149.5,183.5 L150.5,183.3 L151.5,183.1 L152.5,183.0 L153.5,182.8 L154.5,182.7 L155.5,182.7 L156.5,182.6 L157.5,182.7 L158.5,182.7 L159.5,182.8 L160.5,182.9 L161.5,183.1 L162.5,183.3 L163.5,183.6 L164.5,183.9 L165.5,184.3 L166.5,184.8 L167.5,185.3 L168.5,185.8 L169.5,186.4 L170.5,187.1 L171.5,187.8 L172.5,188.6 L173.5,189.5 L174.5,190.4 L175.5,191.5 L176.5,192.5 L177.5,193.7 L178.5,194.8 L179.5,196.0 L180.5,197.3 L181.5,198.6 L182.5,199.8 L183.5,201.1 L184.5,202.4 L185.5,203.8 L186.5,205.1 L187.5,206.5 L188.5,207.9 L189.5,209.4 L190.5,210.9 L191.5,212.4 L192.5,214.0 L193.5,215.7 L194.5,217.4 L195.5,219.1 L196.5,220.9 L197.5,222.7 L198.5,224.5 L199.5,226.4 L200.5,228.3 L201.5,230.2 L202.5,232.2 L203.5,234.2 L204.5,236.2 L205.5,238.3 L206.5,240.3 L207.5,242.4 L208.5,244.5 L209.5,246.7 L210.5,248.8 L211.5,250.9 L212.5,253.1 L213.5,255.2 L214.5,257.3 L215.5,259.4 L216.5,261.5 L217.5,263.5 L218.5,265.5 L219.5,267.4 L220.5,269.4 L221.5,271.3 L222.5,273.2 L223.5,275.1 L224.5,277.0 L225.5,279.0 L226.5,280.9 L227.5,282.9 L228.5,284.8 L229.5,286.8 L230.5,288.8 L231.5,290.8 L232.5,292.8 L233.5,294.8 L234.5,296.8 L235.5,298.7 L236.5,300.6 L237.5,302.4 L238.5,304.2 L239.5,305.9 L240.5,307.6 L241.5,309.2 L242.5,310.7 L243.5,312.1 L244.5,313.5 L245.5,314.8 L246.5,316.1 L247.5,317.2 L248.5,318.4 L249.5,319.4 L250.5,320.4 L251.5,321.4 L252.5,322.3 L253.5,323.1 L254.5,323.9 L255.5,324.7 L256.5,325.4 L257.5,326.1 L258.5,326.7 L259.5,327.3 L260.5,327.9 L261.5,328.4 L262.5,328.9 L263.5,329.3 L264.5,329.8 L265.5,330.2 L266.5,330.5 L267.5,330.9 L268.5,331.2 L269.5,331.5 L270.5,331.9 L271.5,332.1 L272.5,332.4 L273.5,332.7 L274.5,332.9 L275.5,333.2 L276.5,333.4 L277.5,333.7 L278.5,333.9 L279.5,334.2 L280.5,334.4 L281.5,334.7 L282.5,334.9 L283.5,335.2 L284.5,335.5 L285.5,335.8 L286.5,336.0 L287.5,336.3 L288.5,336.6 L289.5,336.9 L290.5,337.2 L291.5,337.5 L292.5,337.8 L293.5,338.1 L294.5,338.3 L295.5,338.6 L296.5,338.9 L297.5,339.2 L298.5,339.5 L299.5,339.8 L300.5,340.1 L301.5,340.4 L302.5,340.7 L303.5,341.0 L304.5,341.3 L305.5,341.6 L306.5,341.9 L307.5,342.2 L308.5,342.5 L309.5,342.7 L310.5,343.0 L311.5,343.3 L312.5,343.6 L313.5,343.8 L314.5,344.1 L315.5,344.3 L316.5,344.6 L317.5,344.8 L318.5,345.1 L319.5,345.3 L320.5,345.5 L321.5,345.7 L322.5,346.0 L323.5,346.2 L324.5,346.4 L325.5,346.5 L326.5,346.7 L327.5,346.9 L328.5,347.1 L329.5,347.2 L330.5,347.4 L331.5,347.5 L332.5,347.7 L333.5,347.8 L334.5,348.0 L335.5,348.1 L336.5,348.2 L337.5,348.3 L338.5,348.4 L339.5,348.5 L340.5,348.6 L341.5,348.7 L342.5,348.8 L343.5,348.9 L344.5,349.0 L345.5,349.0 L346.5,349.1 L347.5,349.2 L348.5,349.2 L349.5,349.3 L350.5,349.3 L351.5,349.4 L352.5,349.4 L353.5,349.5 L354.5,349.5 L355.5,349.6 L356.5,349.6 L357.5,349.6 L358.5,349.7 L359.5,349.7 L360.5,349.7 L361.5,349.7 L362.5,349.8 L363.5,349.8 L364.5,349.8 L365.5,349.8 L366.5,349.8 L367.5,349.8 L368.5,349.8 L369.5,349.9 L370.5,349.9 L371.5,349.9 L372.5,349.9 L373.5,349.9 L374.5,349.9 L375.5,349.9 L376.5,349.9 L377.5,349.9 L378.5,349.9 L379.5,349.9 L380.5,349.9 L381.5,350.0 L382.5,350.0 L383.5,350.0 L384.5,350.0 L385.5,350.0 L386.5,350.0 L387.5,350.0 L388.5,350.1 L389.5,350.1 L390.5,350.1 L391.5,350.1 L392.5,350.2 L393.5,350.2" stroke="#ff0000" stroke-width="1.4" stroke-dasharray="4.5 4.2"/>
<path d="M42.5,339.4 L43.5,338.8 L44.5,338.2 L45.5,337.8 L46.5,337.4 L47.5,337.0 L48.5,336.7 L49.5,336.4 L50.5,336.1 L51.5,335.9 L52.5,335.7 L53.5,335.5 L54.5,335.3 L55.5,335.1 L56.5,335.0 L57.5,334.8 L58.5,334.6 L59.5,334.4 L60.5,334.2 L61.5,333.9 L62.5,333.7 L63.5,333.4 L64.5,333.0 L65.5,332.6 L66.5,332.2 L67.5,331.7 L68.5,331.1 L69.5,330.5 L70.5,329.8 L71.5,329.1 L72.5,328.3 L73.5,327.5 L74.5,326.6 L75.5,325.7 L76.5,324.8 L77.5,323.8 L78.5,322.8 L79.5,321.7 L80.5,320.7 L81.5,319.6 L82.5,318.5 L83.5,317.4 L84.5,316.2 L85.5,315.1 L86.5,314.0 L87.5,312.8 L88.5,311.7 L89.5,310.6 L90.5,309.4 L91.5,308.3 L92.5,307.2 L93.5,306.1 L94.5,305.1 L95.5,304.0 L96.5,302.9 L97.5,301.8 L98.5,300.7 L99.5,299.6 L100.5,298.5 L101.5,297.4 L102.5,296.2 L103.5,295.0 L104.5,293.8 L105.5,292.5 L106.5,291.3 L107.5,290.0 L108.5,288.6 L109.5,287.3 L110.5,286.0 L111.5,284.6 L112.5,283.3 L113.5,282.0 L114.5,280.7 L115.5,279.5 L116.5,278.3 L117.5,277.0 L118.5,275.8 L119.5,274.4 L120.5,272.9 L121.5,271.2 L122.5,269.5 L123.5,267.6 L124.5,265.6 L125.5,263.5 L126.5,261.2 L127.5,258.9 L128.5,256.5 L129.5,254.0 L130.5,251.4 L131.5,248.8 L132.5,246.1 L133.5,243.3 L134.5,240.5 L135.5,237.6 L136.5,234.6 L137.5,231.6 L138.5,228.5 L139.5,225.4 L140.5,222.2 L141.5,219.0 L142.5,215.6 L143.5,212.1 L144.5,208.4 L145.5,204.5 L146.5,200.5 L147.5,196.1 L148.5,191.6 L149.5,186.9 L150.5,182.1 L151.5,177.3 L152.5,172.4 L153.5,167.5 L154.5,162.7 L155.5,158.0 L156.5,153.4 L157.5,149.0 L158.5,144.9 L159.5,140.9 L160.5,137.2 L161.5,133.8 L162.5,130.6 L163.5,127.8 L164.5,125.3 L165.5,123.2 L166.5,121.4 L167.5,119.8 L168.5,118.4 L169.5,117.2 L170.5,116.1 L171.5,115.2 L172.5,114.3 L173.5,113.6 L174.5,113.1 L175.5,112.6 L176.5,112.2 L177.5,111.9 L178.5,111.7 L179.5,111.5 L180.5,111.5 L181.5,111.5 L182.5,111.5 L183.5,111.6 L184.5,111.7 L185.5,111.9 L186.5,112.1 L187.5,112.3 L188.5,112.5 L189.5,112.7 L190.5,113.0 L191.5,113.2 L192.5,113.4 L193.5,113.5 L194.5,113.7 L195.5,113.8 L196.5,114.0 L197.5,114.2 L198.5,114.6 L199.5,115.0 L200.5,115.5 L201.5,116.2 L202.5,117.1 L203.5,118.1 L204.5,119.4 L205.5,120.9 L206.5,122.6 L207.5,124.7 L208.5,126.9 L209.5,129.3 L210.5,131.9 L211.5,134.4 L212.5,136.9 L213.5,139.4 L214.5,141.7 L215.5,144.1 L216.5,146.4 L217.5,148.6 L218.5,150.9 L219.5,153.2 L220.5,155.5 L221.5,157.8 L222.5,160.1 L223.5,162.5 L224.5,164.8 L225.5,167.2 L226.5,169.7 L227.5,172.1 L228.5,174.6 L229.5,177.0 L230.5,179.6 L231.5,182.1 L232.5,184.7 L233.5,187.3 L234.5,189.9 L235.5,192.6 L236.5,195.3 L237.5,198.0 L238.5,200.8 L239.5,203.6 L240.5,206.4 L241.5,209.3 L242.5,212.2 L243.5,215.1 L244.5,218.1 L245.5,221.0 L246.5,224.0 L247.5,227.0 L248.5,229.9 L249.5,232.9 L250.5,235.9 L251.5,238.9 L252.5,241.9 L253.5,244.9 L254.5,247.8 L255.5,250.8 L256.5,253.7 L257.5,256.6 L258.5,259.5 L259.5,262.3 L260.5,265.1 L261.5,267.9 L262.5,270.6 L263.5,273.3 L264.5,276.0 L265.5,278.6 L266.5,281.1 L267.5,283.6 L268.5,286.0 L269.5,288.4 L270.5,290.7 L271.5,293.0 L272.5,295.1 L273.5,297.2 L274.5,299.2 L275.5,301.2 L276.5,303.0 L277.5,304.8 L278.5,306.4 L279.5,308.0 L280.5,309.5 L281.5,310.8 L282.5,312.1 L283.5,313.3 L284.5,314.5 L285.5,315.5 L286.5,316.5 L287.5,317.5 L288.5,318.4 L289.5,319.2 L290.5,320.1 L291.5,320.9 L292.5,321.7 L293.5,322.4 L294.5,323.2 L295.5,324.0 L296.5,324.8 L297.5,325.6 L298.5,326.5 L299.5,327.3 L300.5,328.2 L301.5,329.1 L302.5,330.0 L303.5,330.9 L304.5,331.8 L305.5,332.6 L306.5,333.5 L307.5,334.3 L308.5,335.1 L309.5,335.9 L310.5,336.6 L311.5,337.3 L312.5,338.0 L313.5,338.7 L314.5,339.3 L315.5,339.9 L316.5,340.4 L317.5,340.9 L318.5,341.4 L319.5,341.8 L320.5,342.2 L321.5,342.6 L322.5,342.9 L323.5,343.1 L324.5,343.4 L325.5,343.5 L326.5,343.7 L327.5,343.8 L328.5,343.9 L329.5,343.9 L330.5,344.0 L331.5,344.0 L332.5,344.0 L333.5,344.0 L334.5,344.1 L335.5,344.1 L336.5,344.2 L337.5,344.2 L338.5,344.3 L339.5,344.3 L340.5,344.4 L341.5,344.5 L342.5,344.6 L343.5,344.7 L344.5,344.8 L345.5,344.9 L346.5,345.0 L347.5,345.1 L348.5,345.2 L349.5,345.3 L350.5,345.4 L351.5,345.6 L352.5,345.7 L353.5,345.9 L354.5,346.0 L355.5,346.2 L356.5,346.3 L357.5,346.5 L358.5,346.6 L359.5,346.8 L360.5,347.0 L361.5,347.1 L362.5,347.3 L363.5,347.5 L364.5,347.6 L365.5,347.8 L366.5,348.0 L367.5,348.2 L368.5,348.4 L369.5,348.5 L370.5,348.7 L371.5,348.9 L372.5,349.1 L373.5,349.3 L374.5,349.4 L375.5,349.6 L376.5,349.7 L377.5,349.9 L378.5,350.0 L379.5,350.1 L380.5,350.2 L381.5,350.3 L382.5,350.4 L383.5,350.5 L384.5,350.6 L385.5,350.6 L386.5,350.6 L387.5,350.6 L388.5,350.6 L389.5,350.6 L390.5,350.5 L391.5,350.4 L392.5,350.3 L393.5,350.2" stroke="#0000ff" stroke-width="1.4" stroke-dasharray="4.5 4.2"/>
<path d="M42.5,348.0 L43.5,347.8 L44.5,347.6 L45.5,347.4 L46.5,347.2 L47.5,347.0 L48.5,346.9 L49.5,346.7 L50.5,346.5 L51.5,346.4 L52.5,346.2 L53.5,346.1 L54.5,345.9 L55.5,345.7 L56.5,345.6 L57.5,345.4 L58.5,345.3 L59.5,345.1 L60.5,344.9 L61.5,344.7 L62.5,344.6 L63.5,344.4 L64.5,344.2 L65.5,344.0 L66.5,343.7 L67.5,343.5 L68.5,343.3 L69.5,343.0 L70.5,342.8 L71.5,342.5 L72.5,342.2 L73.5,341.9 L74.5,341.5 L75.5,341.2 L76.5,340.8 L77.5,340.5 L78.5,340.1 L79.5,339.7 L80.5,339.2 L81.5,338.8 L82.5,338.3 L83.5,337.8 L84.5,337.2 L85.5,336.7 L86.5,336.1 L87.5,335.5 L88.5,334.9 L89.5,334.2 L90.5,333.5 L91.5,332.8 L92.5,332.0 L93.5,331.3 L94.5,330.5 L95.5,329.6 L96.5,328.7 L97.5,327.8 L98.5,326.9 L99.5,325.9 L100.5,324.8 L101.5,323.8 L102.5,322.7 L103.5,321.5 L104.5,320.4 L105.5,319.1 L106.5,317.9 L107.5,316.6 L108.5,315.2 L109.5,313.8 L110.5,312.4 L111.5,310.9 L112.5,309.4 L113.5,307.8 L114.5,306.2 L115.5,304.5 L116.5,302.8 L117.5,301.0 L118.5,299.2 L119.5,297.4 L120.5,295.5 L121.5,293.6 L122.5,291.6 L123.5,289.7 L124.5,287.7 L125.5,285.8 L126.5,283.8 L127.5,281.8 L128.5,279.9 L129.5,277.9 L130.5,276.0 L131.5,274.1 L132.5,272.2 L133.5,270.4 L134.5,268.6 L135.5,266.8 L136.5,265.0 L137.5,263.2 L138.5,261.4 L139.5,259.6 L140.5,257.7 L141.5,255.7 L142.5,253.7 L143.5,251.5 L144.5,249.3 L145.5,246.9 L146.5,244.4 L147.5,241.8 L148.5,239.1 L149.5,236.3 L150.5,233.3 L151.5,230.3 L152.5,227.2 L153.5,224.0 L154.5,220.7 L155.5,217.4 L156.5,213.9 L157.5,210.4 L158.5,206.8 L159.5,203.1 L160.5,199.4 L161.5,195.6 L162.5,191.7 L163.5,187.8 L164.5,183.8 L165.5,179.8 L166.5,175.7 L167.5,171.6 L168.5,167.4 L169.5,163.2 L170.5,159.0 L171.5,154.7 L172.5,150.4 L173.5,146.1 L174.5,141.8 L175.5,137.5 L176.5,133.2 L177.5,128.9 L178.5,124.5 L179.5,120.2 L180.5,115.9 L181.5,111.6 L182.5,107.2 L183.5,102.9 L184.5,98.7 L185.5,94.7 L186.5,90.9 L187.5,87.3 L188.5,84.1 L189.5,81.3 L190.5,78.8 L191.5,76.8 L192.5,75.1 L193.5,73.7 L194.5,72.5 L195.5,71.7 L196.5,71.1 L197.5,70.8 L198.5,70.7 L199.5,70.8 L200.5,71.1 L201.5,71.6 L202.5,72.3 L203.5,73.1 L204.5,74.0 L205.5,75.0 L206.5,76.1 L207.5,77.3 L208.5,78.5 L209.5,79.7 L210.5,80.9 L211.5,82.2 L212.5,83.4 L213.5,84.6 L214.5,85.8 L215.5,87.0 L216.5,88.3 L217.5,89.7 L218.5,91.2 L219.5,92.8 L220.5,94.6 L221.5,96.5 L222.5,98.7 L223.5,101.0 L224.5,103.5 L225.5,106.3 L226.5,109.1 L227.5,112.2 L228.5,115.4 L229.5,118.7 L230.5,122.1 L231.5,125.7 L232.5,129.3 L233.5,133.1 L234.5,136.9 L235.5,140.8 L236.5,144.7 L237.5,148.7 L238.5,152.8 L239.5,156.8 L240.5,160.9 L241.5,164.9 L242.5,169.0 L243.5,173.0 L244.5,177.0 L245.5,181.0 L246.5,185.0 L247.5,189.0 L248.5,192.9 L249.5,196.8 L250.5,200.7 L251.5,204.6 L252.5,208.5 L253.5,212.4 L254.5,216.3 L255.5,220.2 L256.5,224.1 L257.5,228.0 L258.5,231.8 L259.5,235.6 L260.5,239.3 L261.5,242.9 L262.5,246.4 L263.5,249.8 L264.5,253.0 L265.5,256.0 L266.5,258.9 L267.5,261.6 L268.5,264.1 L269.5,266.4 L270.5,268.6 L271.5,270.6 L272.5,272.5 L273.5,274.4 L274.5,276.3 L275.5,278.1 L276.5,280.0 L277.5,282.0 L278.5,284.1 L279.5,286.3 L280.5,288.5 L281.5,290.7 L282.5,293.0 L283.5,295.2 L284.5,297.4 L285.5,299.6 L286.5,301.8 L287.5,303.9 L288.5,305.9 L289.5,307.8 L290.5,309.6 L291.5,311.3 L292.5,312.9 L293.5,314.5 L294.5,316.0 L295.5,317.5 L296.5,318.9 L297.5,320.2 L298.5,321.6 L299.5,322.8 L300.5,324.1 L301.5,325.3 L302.5,326.4 L303.5,327.5 L304.5,328.6 L305.5,329.7 L306.5,330.7 L307.5,331.6 L308.5,332.6 L309.5,333.5 L310.5,334.3 L311.5,335.2 L312.5,336.0 L313.5,336.7 L314.5,337.5 L315.5,338.2 L316.5,338.9 L317.5,339.5 L318.5,340.1 L319.5,340.7 L320.5,341.3 L321.5,341.9 L322.5,342.4 L323.5,342.9 L324.5,343.4 L325.5,343.8 L326.5,344.3 L327.5,344.7 L328.5,345.1 L329.5,345.4 L330.5,345.8 L331.5,346.1 L332.5,346.4 L333.5,346.7 L334.5,347.0 L335.5,347.3 L336.5,347.5 L337.5,347.7 L338.5,347.9 L339.5,348.1 L340.5,348.3 L341.5,348.5 L342.5,348.6 L343.5,348.8 L344.5,348.9 L345.5,349.0 L346.5,349.1 L347.5,349.2 L348.5,349.3 L349.5,349.4 L350.5,349.4 L351.5,349.5 L352.5,349.5 L353.5,349.5 L354.5,349.6 L355.5,349.6 L356.5,349.6 L357.5,349.6 L358.5,349.6 L359.5,349.6 L360.5,349.6 L361.5,349.6 L362.5,349.6 L363.5,349.6 L364.5,349.5 L365.5,349.5 L366.5,349.5 L367.5,349.5 L368.5,349.4 L369.5,349.4 L370.5,349.4 L371.5,349.4 L372.5,349.3 L373.5,349.3 L374.5,349.3 L375.5,349.3 L376.5,349.3 L377.5,349.3 L378.5,349.3 L379.5,349.3 L380.5,349.3 L381.5,349.3 L382.5,349.4 L383.5,349.4 L384.5,349.4 L385.5,349.5 L386.5,349.5 L387.5,349.6 L388.5,349.7 L389.5,349.8 L390.5,349.9 L391.5,350.0 L392.5,350.1 L393.5,350.3" stroke="#00cd00" stroke-width="1.4" stroke-dasharray="4.5 4.2"/>
<path d="M42.5,349.4 L43.5,349.4 L44.5,349.4 L45.5,349.4 L46.5,349.4 L47.5,349.4 L48.5,349.3 L49.5,349.3 L50.5,349.2 L51.5,349.1 L52.5,349.1 L53.5,349.0 L54.5,348.9 L55.5,348.8 L56.5,348.6 L57.5,348.5 L58.5,348.4 L59.5,348.2 L60.5,348.0 L61.5,347.9 L62.5,347.7 L63.5,347.4 L64.5,347.2 L65.5,347.0 L66.5,346.7 L67.5,346.5 L68.5,346.2 L69.5,345.9 L70.5,345.6 L71.5,345.3 L72.5,344.9 L73.5,344.6 L74.5,344.2 L75.5,343.8 L76.5,343.4 L77.5,343.0 L78.5,342.5 L79.5,342.1 L80.5,341.6 L81.5,341.1 L82.5,340.6 L83.5,340.0 L84.5,339.5 L85.5,338.9 L86.5,338.3 L87.5,337.7 L88.5,337.1 L89.5,336.4 L90.5,335.7 L91.5,335.1 L92.5,334.3 L93.5,333.6 L94.5,332.8 L95.5,332.1 L96.5,331.2 L97.5,330.4 L98.5,329.5 L99.5,328.7 L100.5,327.7 L101.5,326.8 L102.5,325.8 L103.5,324.7 L104.5,323.7 L105.5,322.6 L106.5,321.4 L107.5,320.2 L108.5,318.9 L109.5,317.6 L110.5,316.3 L111.5,314.9 L112.5,313.4 L113.5,311.9 L114.5,310.3 L115.5,308.7 L116.5,307.0 L117.5,305.2 L118.5,303.4 L119.5,301.5 L120.5,299.5 L121.5,297.5 L122.5,295.4 L123.5,293.2 L124.5,290.9 L125.5,288.6 L126.5,286.2" stroke="#00ffff" stroke-width="1.4" stroke-dasharray="4.5 4.2"/>
<path d="M127.5,283.8 L128.5,281.3 L129.5,278.7 L130.5,276.1 L131.5,273.4 L132.5,270.7 L133.5,267.9 L134.5,265.1 L135.5,262.3 L136.5,259.4 L137.5,256.5 L138.5,253.6 L139.5,250.7 L140.5,247.7 L141.5,244.7 L142.5,241.7 L143.5,238.7 L144.5,235.7 L145.5,232.7 L146.5,229.6 L147.5,226.5 L148.5,223.3 L149.5,220.0 L150.5,216.5 L151.5,212.9 L152.5,209.2 L153.5,205.2 L154.5,201.0 L155.5,196.6 L156.5,192.0 L157.5,187.5 L158.5,183.2 L159.5,179.0 L160.5,175.1 L161.5,171.5 L162.5,168.2 L163.5,164.9 L164.5,161.6 L165.5,158.1 L166.5,154.5 L167.5,150.8 L168.5,147.1 L169.5,143.4 L170.5,139.7 L171.5,136.2 L172.5,132.9 L173.5,129.9 L174.5,127.1 L175.5,124.6 L176.5,122.4 L177.5,120.3 L178.5,118.3 L179.5,116.5 L180.5,114.8 L181.5,113.2 L182.5,111.7 L183.5,110.3 L184.5,109.0 L185.5,107.9 L186.5,106.8 L187.5,105.8 L188.5,105.0 L189.5,104.2 L190.5,103.5 L191.5,102.8 L192.5,102.3 L193.5,101.8 L194.5,101.4 L195.5,101.1 L196.5,100.9 L197.5,100.7 L198.5,100.5 L199.5,100.4 L200.5,100.4 L201.5,100.4 L202.5,100.5 L203.5,100.6 L204.5,100.7 L205.5,100.9 L206.5,101.1 L207.5,101.4 L208.5,101.6 L209.5,101.9 L210.5,102.2 L211.5,102.5 L212.5,102.8 L213.5,103.2 L214.5,103.5 L215.5,103.8 L216.5,104.2 L217.5,104.5 L218.5,104.8 L219.5,105.1 L220.5,105.4 L221.5,105.8 L222.5,106.2 L223.5,106.7 L224.5,107.3 L225.5,108.1 L226.5,109.1 L227.5,110.3 L228.5,111.7 L229.5,113.4 L230.5,115.4 L231.5,117.8 L232.5,120.5 L233.5,123.5 L234.5,126.8 L235.5,130.3 L236.5,134.2 L237.5,138.3 L238.5,142.7 L239.5,147.3 L240.5,152.1 L241.5,157.1 L242.5,162.4 L243.5,167.8 L244.5,173.4 L245.5,179.0 L246.5,184.7 L247.5,190.3 L248.5,195.8 L249.5,201.1 L250.5,206.2 L251.5,211.1 L252.5,215.5 L253.5,219.6 L254.5,223.2 L255.5,226.5 L256.5,229.4 L257.5,232.1 L258.5,234.8 L259.5,237.3 L260.5,240.0 L261.5,242.8 L262.5,245.6 L263.5,248.4 L264.5,251.2 L265.5,253.8 L266.5,256.3 L267.5,258.6 L268.5,260.7 L269.5,262.6 L270.5,264.4 L271.5,266.2 L272.5,268.0 L273.5,269.8 L274.5,271.6 L275.5,273.4 L276.5,275.3 L277.5,277.3 L278.5,279.2 L279.5,281.2 L280.5,283.2 L281.5,285.2 L282.5,287.2 L283.5,289.2 L284.5,291.2 L285.5,293.2 L286.5,295.2 L287.5,297.2 L288.5,299.1 L289.5,301.1 L290.5,303.0 L291.5,304.9 L292.5,306.7 L293.5,308.6 L294.5,310.3 L295.5,312.0 L296.5,313.7 L297.5,315.3 L298.5,316.9 L299.5,318.4 L300.5,319.8 L301.5,321.2 L302.5,322.4 L303.5,323.7 L304.5,324.8 L305.5,325.9 L306.5,327.0 L307.5,328.0 L308.5,328.9 L309.5,329.8 L310.5,330.7 L311.5,331.5 L312.5,332.3 L313.5,333.0 L314.5,333.7 L315.5,334.3 L316.5,334.9 L317.5,335.5 L318.5,336.1 L319.5,336.6 L320.5,337.1 L321.5,337.6 L322.5,338.1 L323.5,338.5 L324.5,338.9 L325.5,339.4 L326.5,339.8 L327.5,340.2 L328.5,340.5 L329.5,340.9 L330.5,341.2 L331.5,341.6 L332.5,341.9 L333.5,342.2 L334.5,342.5 L335.5,342.8 L336.5,343.1 L337.5,343.4 L338.5,343.6 L339.5,343.9 L340.5,344.1 L341.5,344.3 L342.5,344.5 L343.5,344.7 L344.5,344.9 L345.5,345.1 L346.5,345.3 L347.5,345.5 L348.5,345.7 L349.5,345.8 L350.5,346.0 L351.5,346.1 L352.5,346.3 L353.5,346.4 L354.5,346.5 L355.5,346.6 L356.5,346.8 L357.5,346.9 L358.5,347.0 L359.5,347.1 L360.5,347.2 L361.5,347.3 L362.5,347.4 L363.5,347.5 L364.5,347.6 L365.5,347.7 L366.5,347.8 L367.5,347.8 L368.5,347.9 L369.5,348.0 L370.5,348.1 L371.5,348.2 L372.5,348.3 L373.5,348.4 L374.5,348.5 L375.5,348.5 L376.5,348.6 L377.5,348.7 L378.5,348.8 L379.5,348.9 L380.5,349.0 L381.5,349.1 L382.5,349.2 L383.5,349.3 L384.5,349.5 L385.5,349.6 L386.5,349.7 L387.5,349.8 L388.5,350.0 L389.5,350.1 L390.5,350.2 L391.5,350.4 L392.5,350.6 L393.5,350.7" stroke="#00ffff" stroke-width="1.4" stroke-dasharray="4.5 4.2" stroke-dashoffset="4.85"/>
<path d="M42.5,349.6 L43.5,349.7 L44.5,349.8 L45.5,349.9 L46.5,350.0 L47.5,350.0 L48.5,350.1 L49.5,350.1 L50.5,350.0 L51.5,350.0 L52.5,349.9 L53.5,349.8 L54.5,349.7 L55.5,349.6 L56.5,349.5 L57.5,349.3 L58.5,349.1 L59.5,348.9 L60.5,348.7 L61.5,348.5 L62.5,348.2 L63.5,347.9 L64.5,347.7 L65.5,347.4 L66.5,347.0 L67.5,346.7 L68.5,346.4 L69.5,346.0 L70.5,345.6 L71.5,345.2 L72.5,344.8 L73.5,344.4 L74.5,344.0 L75.5,343.6 L76.5,343.1 L77.5,342.7 L78.5,342.2 L79.5,341.7 L80.5,341.3 L81.5,340.8 L82.5,340.3 L83.5,339.8 L84.5,339.3 L85.5,338.7 L86.5,338.2 L87.5,337.6 L88.5,337.1 L89.5,336.5 L90.5,335.9 L91.5,335.3 L92.5,334.6 L93.5,334.0 L94.5,333.3 L95.5,332.6 L96.5,331.8 L97.5,331.0 L98.5,330.2 L99.5,329.3 L100.5,328.4 L101.5,327.5 L102.5,326.5 L103.5,325.5 L104.5,324.4 L105.5,323.3 L106.5,322.1 L107.5,320.9 L108.5,319.6 L109.5,318.3 L110.5,316.9 L111.5,315.5 L112.5,313.9 L113.5,312.4 L114.5,310.7 L115.5,309.0 L116.5,307.2 L117.5,305.4 L118.5,303.5 L119.5,301.5 L120.5,299.4 L121.5,297.3 L122.5,295.2 L123.5,292.9 L124.5,290.6 L125.5,288.3 L126.5,285.9 L127.5,283.5 L128.5,281.0 L129.5,278.4 L130.5,275.9 L131.5,273.2 L132.5,270.6 L133.5,267.8 L134.5,265.1 L135.5,262.3 L136.5,259.5 L137.5,256.6 L138.5,253.8 L139.5,250.9 L140.5,248.1 L141.5,245.3 L142.5,242.6 L143.5,239.8 L144.5,237.2 L145.5,234.6 L146.5,232.2 L147.5,229.8 L148.5,227.6 L149.5,225.4 L150.5,223.3 L151.5,221.3 L152.5,219.2 L153.5,217.1 L154.5,214.9 L155.5,212.7 L156.5,210.4 L157.5,208.1 L158.5,205.8 L159.5,203.4 L160.5,201.0 L161.5,198.5 L162.5,196.1 L163.5,193.6 L164.5,191.1 L165.5,188.6 L166.5,186.1 L167.5,183.6 L168.5,181.1 L169.5,178.5 L170.5,176.0 L171.5,173.5 L172.5,171.0 L173.5,168.6 L174.5,166.1 L175.5,163.7 L176.5,161.3 L177.5,158.9 L178.5,156.6 L179.5,154.3 L180.5,152.1 L181.5,149.9 L182.5,147.8 L183.5,145.8 L184.5,143.8 L185.5,142.0 L186.5,140.2 L187.5,138.6 L188.5,137.1 L189.5,135.7 L190.5,134.4 L191.5,133.3 L192.5,132.3 L193.5,131.4 L194.5,130.7 L195.5,130.0 L196.5,129.4 L197.5,128.9 L198.5,128.3 L199.5,127.7 L200.5,127.1 L201.5,126.6 L202.5,126.0 L203.5,125.5 L204.5,125.0 L205.5,124.6 L206.5,124.2 L207.5,124.0 L208.5,123.8 L209.5,123.7 L210.5,123.8 L211.5,124.0 L212.5,124.3 L213.5,124.8 L214.5,125.3 L215.5,126.0 L216.5,126.7 L217.5,127.6 L218.5,128.5 L219.5,129.5 L220.5,130.6 L221.5,131.7 L222.5,133.0 L223.5,134.2 L224.5,135.6 L225.5,136.9 L226.5,138.3 L227.5,139.8 L228.5,141.3 L229.5,142.8 L230.5,144.4 L231.5,146.0 L232.5,147.7 L233.5,149.4 L234.5,151.1 L235.5,152.9 L236.5,154.7 L237.5,156.6 L238.5,158.5 L239.5,160.4 L240.5,162.4 L241.5,164.4 L242.5,166.5 L243.5,168.6 L244.5,170.7 L245.5,172.9 L246.5,175.1 L247.5,177.4 L248.5,179.7 L249.5,182.1 L250.5,184.5 L251.5,186.9 L252.5,189.4 L253.5,191.9 L254.5,194.4 L255.5,197.0 L256.5,199.6 L257.5,202.2 L258.5,204.9 L259.5,207.6 L260.5,210.2 L261.5,212.9 L262.5,215.6 L263.5,218.3 L264.5,221.0 L265.5,223.7 L266.5,226.4 L267.5,229.1 L268.5,231.8 L269.5,234.5 L270.5,237.2 L271.5,239.8 L272.5,242.4 L273.5,245.0 L274.5,247.6 L275.5,250.1 L276.5,252.6 L277.5,255.0 L278.5,257.4 L279.5,259.7 L280.5,262.0 L281.5,264.3 L282.5,266.5 L283.5,268.6 L284.5,270.6 L285.5,272.6 L286.5,274.6 L287.5,276.5 L288.5,278.4 L289.5,280.3 L290.5,282.2 L291.5,284.0 L292.5,285.8 L293.5,287.6 L294.5,289.3 L295.5,291.1 L296.5,292.8 L297.5,294.4 L298.5,296.1 L299.5,297.7 L300.5,299.3 L301.5,300.8 L302.5,302.3 L303.5,303.8 L304.5,305.2 L305.5,306.6 L306.5,307.9 L307.5,309.2 L308.5,310.5 L309.5,311.7 L310.5,312.8 L311.5,314.0 L312.5,315.0 L313.5,316.1 L314.5,317.1 L315.5,318.1 L316.5,319.0 L317.5,319.9 L318.5,320.7 L319.5,321.6 L320.5,322.4 L321.5,323.2 L322.5,323.9 L323.5,324.6 L324.5,325.3 L325.5,326.0 L326.5,326.6 L327.5,327.3 L328.5,327.9 L329.5,328.5 L330.5,329.1 L331.5,329.6 L332.5,330.2 L333.5,330.7 L334.5,331.3 L335.5,331.8 L336.5,332.3 L337.5,332.8 L338.5,333.3 L339.5,333.8 L340.5,334.3 L341.5,334.7 L342.5,335.2 L343.5,335.6 L344.5,336.1 L345.5,336.5 L346.5,336.9 L347.5,337.3 L348.5,337.7 L349.5,338.1 L350.5,338.5 L351.5,338.9 L352.5,339.2 L353.5,339.6 L354.5,339.9 L355.5,340.2 L356.5,340.6 L357.5,340.9 L358.5,341.2 L359.5,341.5 L360.5,341.7 L361.5,342.0 L362.5,342.3 L363.5,342.5 L364.5,342.8 L365.5,343.0 L366.5,343.2 L367.5,343.4 L368.5,343.6 L369.5,343.8 L370.5,344.0 L371.5,344.1 L372.5,344.3 L373.5,344.4 L374.5,344.6 L375.5,344.7 L376.5,344.8 L377.5,344.9 L378.5,345.0 L379.5,345.1 L380.5,345.1 L381.5,345.2 L382.5,345.2 L383.5,345.3 L384.5,345.3 L385.5,345.3 L386.5,345.3 L387.5,345.3 L388.5,345.3 L389.5,345.2 L390.5,345.2 L391.5,345.1 L392.5,345.1 L393.5,345.0" stroke="#ff00ff" stroke-width="1.4" stroke-dasharray="4.5 4.2"/>
</g>
<rect x="42.5" y="42.5" width="351.0" height="319.5" fill="none" stroke="#000" stroke-width="0.7"/>
<path d="M55.5,362.0 H380.5" stroke="#000" stroke-width="0.7"/>
<path d="M55.5,362.0 V367.4" stroke="#000" stroke-width="0.7"/>
<text x="55.5" y="381" font-size="8.6" text-anchor="middle">−4</text>
<path d="M136.75,362.0 V367.4" stroke="#000" stroke-width="0.7"/>
<text x="136.75" y="381" font-size="8.6" text-anchor="middle">−2</text>
<path d="M218.0,362.0 V367.4" stroke="#000" stroke-width="0.7"/>
<text x="218.0" y="381" font-size="8.6" text-anchor="middle">0</text>
<path d="M299.25,362.0 V367.4" stroke="#000" stroke-width="0.7"/>
<text x="299.25" y="381" font-size="8.6" text-anchor="middle">2</text>
<path d="M380.5,362.0 V367.4" stroke="#000" stroke-width="0.7"/>
<text x="380.5" y="381" font-size="8.6" text-anchor="middle">4</text>
<path d="M42.5,350.4 V52.49999999999994" stroke="#000" stroke-width="0.7"/>
<path d="M42.5,350.40 H37.1" stroke="#000" stroke-width="0.7"/>
<text transform="translate(30.3,350.40) rotate(-90)" font-size="8.6" text-anchor="middle">0.0</text>
<path d="M42.5,275.92 H37.1" stroke="#000" stroke-width="0.7"/>
<text transform="translate(30.3,275.92) rotate(-90)" font-size="8.6" text-anchor="middle">0.1</text>
<path d="M42.5,201.45 H37.1" stroke="#000" stroke-width="0.7"/>
<text transform="translate(30.3,201.45) rotate(-90)" font-size="8.6" text-anchor="middle">0.2</text>
<path d="M42.5,126.97 H37.1" stroke="#000" stroke-width="0.7"/>
<text transform="translate(30.3,126.97) rotate(-90)" font-size="8.6" text-anchor="middle">0.3</text>
<path d="M42.5,52.50 H37.1" stroke="#000" stroke-width="0.7"/>
<text transform="translate(30.3,52.50) rotate(-90)" font-size="8.6" text-anchor="middle">0.4</text>
<text x="218.0" y="401.5" font-size="8.6" text-anchor="middle">t–statistic</text>
<text transform="translate(9,202) rotate(-90)" font-size="8.6" text-anchor="middle">Frequency</text>
<text x="218.0" y="24" font-size="10.04" text-anchor="middle">Flexible Naming: Contagion <tspan font-family="Liberation Serif" font-size="11.2">β</tspan> Coverage by Homophily (True Values Positive)</text>
<rect x="270.5" y="52.5" width="109.5" height="125.0" fill="#fff" stroke="#000" stroke-width="0.7"/>
<path d="M277.7,62.92 H294.8" stroke="#000" stroke-width="1.55"/>
<text x="302.1" y="65.87" font-size="8.6">Baseline – 0.95</text>
<path d="M277.7,73.33 H294.8" stroke="#ff0000" stroke-width="1.55"/>
<text x="302.1" y="76.28" font-size="8.6">++Hetero – 0.633</text>
<path d="M277.7,83.75 H294.8" stroke="#0000ff" stroke-width="1.55"/>
<text x="302.1" y="86.70" font-size="8.6">Hetero – 0.651</text>
<path d="M277.7,94.17 H294.8" stroke="#00cd00" stroke-width="1.55"/>
<text x="302.1" y="97.12" font-size="8.6">Iso – 0.627</text>
<path d="M277.7,104.59 H294.8" stroke="#00ffff" stroke-width="1.55"/>
<text x="302.1" y="107.54" font-size="8.6">Homoph – 0.637</text>
<path d="M277.7,115.00 H294.8" stroke="#ff00ff" stroke-width="1.55"/>
<text x="302.1" y="117.95" font-size="8.6">++Homoph – 0.742</text>
<path d="M277.7,125.42 H294.8" stroke="#ff0000" stroke-width="1.55" stroke-dasharray="4.5 4.2"/>
<text x="302.1" y="128.37" font-size="8.6">++Hetero – 0.474</text>
<path d="M277.7,135.84 H294.8" stroke="#0000ff" stroke-width="1.55" stroke-dasharray="4.5 4.2"/>
<text x="302.1" y="138.79" font-size="8.6">Hetero – 0.824</text>
<path d="M277.7,146.25 H294.8" stroke="#00cd00" stroke-width="1.55" stroke-dasharray="4.5 4.2"/>
<text x="302.1" y="149.20" font-size="8.6">Iso – 0.891</text>
<path d="M277.7,156.67 H294.8" stroke="#00ffff" stroke-width="1.55" stroke-dasharray="4.5 4.2"/>
<text x="302.1" y="159.62" font-size="8.6">Homoph – 0.903</text>
<path d="M277.7,167.09 H294.8" stroke="#ff00ff" stroke-width="1.55" stroke-dasharray="4.5 4.2"/>
<text x="302.1" y="170.04" font-size="8.6">++Homoph – 0.859</text>
<g clip-path="url(#clip415)" fill="none" stroke-linejoin="round">
<path d="M470.5,350.2 L472.1,350.2 L473.8,350.2 L475.4,350.2 L477.0,350.1 L478.6,350.1 L480.2,350.0 L481.9,350.0 L483.5,349.9 L485.1,349.8 L486.8,349.8 L488.4,349.7 L490.0,349.6 L491.6,349.5 L493.2,349.4 L494.9,349.2 L496.5,349.1 L498.1,348.9 L499.8,348.7 L501.4,348.5 L503.0,348.2 L504.6,348.0 L506.2,347.7 L507.9,347.4 L509.5,347.0 L511.1,346.6 L512.8,346.1 L514.4,345.6 L516.0,345.1 L517.6,344.5 L519.2,343.8 L520.9,343.1 L522.5,342.3 L524.1,341.5 L525.8,340.5 L527.4,339.5 L529.0,338.4 L530.6,337.2 L532.2,335.9 L533.9,334.4 L535.5,332.9 L537.1,331.2 L538.8,329.4 L540.4,327.5 L542.0,325.4 L543.6,323.2 L545.2,320.8 L546.9,318.2 L548.5,315.5 L550.1,312.6 L551.8,309.5 L553.4,306.2 L555.0,302.8 L556.6,299.1 L558.2,295.2 L559.9,291.2 L561.5,286.9 L563.1,282.4 L564.8,277.7 L566.4,272.8 L568.0,267.7 L569.6,262.4 L571.2,256.9 L572.9,251.2 L574.5,245.3 L576.1,239.2 L577.8,232.9 L579.4,226.5 L581.0,220.0 L582.6,213.3 L584.2,206.4 L585.9,199.5 L587.5,192.5 L589.1,185.4 L590.8,178.3 L592.4,171.1 L594.0,163.9 L595.6,156.8 L597.2,149.7 L598.9,142.6 L600.5,135.7 L602.1,128.8 L603.8,122.1 L605.4,115.6 L607.0,109.3 L608.6,103.2 L610.2,97.4 L611.9,91.8 L613.5,86.5 L615.1,81.6 L616.8,77.0 L618.4,72.8 L620.0,69.0 L621.6,65.5 L623.2,62.5 L624.9,60.0 L626.5,57.8 L628.1,56.2 L629.8,55.0 L631.4,54.3 L633.0,54.0 L634.6,54.3 L636.2,55.0 L637.9,56.2 L639.5,57.8 L641.1,60.0 L642.8,62.5 L644.4,65.5 L646.0,69.0 L647.6,72.8 L649.2,77.0 L650.9,81.6 L652.5,86.5 L654.1,91.8 L655.8,97.4 L657.4,103.2 L659.0,109.3 L660.6,115.6 L662.2,122.1 L663.9,128.8 L665.5,135.7 L667.1,142.6 L668.8,149.7 L670.4,156.8 L672.0,163.9 L673.6,171.1 L675.2,178.3 L676.9,185.4 L678.5,192.5 L680.1,199.5 L681.8,206.4 L683.4,213.3 L685.0,220.0 L686.6,226.5 L688.2,232.9 L689.9,239.2 L691.5,245.3 L693.1,251.2 L694.8,256.9 L696.4,262.4 L698.0,267.7 L699.6,272.8 L701.2,277.7 L702.9,282.4 L704.5,286.9 L706.1,291.2 L707.8,295.2 L709.4,299.1 L711.0,302.8 L712.6,306.2 L714.2,309.5 L715.9,312.6 L717.5,315.5 L719.1,318.2 L720.8,320.8 L722.4,323.2 L724.0,325.4 L725.6,327.5 L727.2,329.4 L728.9,331.2 L730.5,332.9 L732.1,334.4 L733.8,335.9 L735.4,337.2 L737.0,338.4 L738.6,339.5 L740.2,340.5 L741.9,341.5 L743.5,342.3 L745.1,343.1 L746.8,343.8 L748.4,344.5 L750.0,345.1 L751.6,345.6 L753.2,346.1 L754.9,346.6 L756.5,347.0 L758.1,347.4 L759.8,347.7 L761.4,348.0 L763.0,348.2 L764.6,348.5 L766.2,348.7 L767.9,348.9 L769.5,349.1 L771.1,349.2 L772.8,349.4 L774.4,349.5 L776.0,349.6 L777.6,349.7 L779.2,349.8 L780.9,349.8 L782.5,349.9 L784.1,350.0 L785.8,350.0 L787.4,350.1 L789.0,350.1 L790.6,350.2 L792.2,350.2 L793.9,350.2 L795.5,350.2" stroke="#000" stroke-width="2.1" stroke-linecap="round"/>
<path d="M457.5,338.2 L458.5,338.2 L459.5,338.2 L460.5,338.2 L461.5,338.2 L462.5,338.2 L463.5,338.1 L464.5,338.1 L465.5,338.1 L466.5,338.0 L467.5,337.9 L468.5,337.9 L469.5,337.8 L470.5,337.7 L471.5,337.6 L472.5,337.5 L473.5,337.4 L474.5,337.3 L475.5,337.2 L476.5,337.1 L477.5,336.9 L478.5,336.8 L479.5,336.6 L480.5,336.5 L481.5,336.3 L482.5,336.1 L483.5,336.0 L484.5,335.8 L485.5,335.6 L486.5,335.4 L487.5,335.2 L488.5,334.9 L489.5,334.7 L490.5,334.5 L491.5,334.2 L492.5,334.0 L493.5,333.8 L494.5,333.5 L495.5,333.2 L496.5,333.0 L497.5,332.7 L498.5,332.4 L499.5,332.1 L500.5,331.8 L501.5,331.5 L502.5,331.2 L503.5,330.9 L504.5,330.5 L505.5,330.2 L506.5,329.9 L507.5,329.5 L508.5,329.2 L509.5,328.8 L510.5,328.5 L511.5,328.1 L512.5,327.7 L513.5,327.3 L514.5,326.9 L515.5,326.6 L516.5,326.2 L517.5,325.7 L518.5,325.3 L519.5,324.9 L520.5,324.5 L521.5,324.1 L522.5,323.6 L523.5,323.2 L524.5,322.8 L525.5,322.3 L526.5,321.8 L527.5,321.4 L528.5,320.9 L529.5,320.4 L530.5,319.9 L531.5,319.4 L532.5,318.8 L533.5,318.3 L534.5,317.7 L535.5,317.1 L536.5,316.5 L537.5,315.9 L538.5,315.3 L539.5,314.6 L540.5,314.0 L541.5,313.3 L542.5,312.6 L543.5,311.8 L544.5,311.1 L545.5,310.3 L546.5,309.5 L547.5,308.6 L548.5,307.8 L549.5,306.9 L550.5,306.0 L551.5,305.1 L552.5,304.1 L553.5,303.2 L554.5,302.2 L555.5,301.2 L556.5,300.2 L557.5,299.2 L558.5,298.1 L559.5,297.1 L560.5,296.1 L561.5,295.0 L562.5,294.0 L563.5,292.9 L564.5,291.9 L565.5,290.8 L566.5,289.8 L567.5,288.8 L568.5,287.7 L569.5,286.7 L570.5,285.7 L571.5,284.6 L572.5,283.6 L573.5,282.6 L574.5,281.6 L575.5,280.6 L576.5,279.5 L577.5,278.5 L578.5,277.5 L579.5,276.5 L580.5,275.5 L581.5,274.5 L582.5,273.6 L583.5,272.6 L584.5,271.6 L585.5,270.6 L586.5,269.7 L587.5,268.7 L588.5,267.7 L589.5,266.8 L590.5,265.8 L591.5,264.9 L592.5,264.0 L593.5,263.0 L594.5,262.1 L595.5,261.2 L596.5,260.3 L597.5,259.4 L598.5,258.5 L599.5,257.6 L600.5,256.7 L601.5,255.8 L602.5,255.0 L603.5,254.1 L604.5,253.2 L605.5,252.4 L606.5,251.6 L607.5,250.7 L608.5,249.9 L609.5,249.1 L610.5,248.3 L611.5,247.6 L612.5,246.8 L613.5,246.1 L614.5,245.3 L615.5,244.6 L616.5,243.9 L617.5,243.3 L618.5,242.6 L619.5,242.0 L620.5,241.4 L621.5,240.8 L622.5,240.3 L623.5,239.7 L624.5,239.2 L625.5,238.7 L626.5,238.3 L627.5,237.8 L628.5,237.4 L629.5,237.1 L630.5,236.7 L631.5,236.4 L632.5,236.2 L633.5,235.9 L634.5,235.7 L635.5,235.6 L636.5,235.4 L637.5,235.3 L638.5,235.3 L639.5,235.2 L640.5,235.3 L641.5,235.3 L642.5,235.4 L643.5,235.6 L644.5,235.8 L645.5,236.0 L646.5,236.2 L647.5,236.5 L648.5,236.8 L649.5,237.2 L650.5,237.6 L651.5,238.0 L652.5,238.5 L653.5,238.9 L654.5,239.5 L655.5,240.0 L656.5,240.6 L657.5,241.2 L658.5,241.8 L659.5,242.5 L660.5,243.2 L661.5,243.9 L662.5,244.6 L663.5,245.4 L664.5,246.2 L665.5,247.0 L666.5,247.8 L667.5,248.6 L668.5,249.5 L669.5,250.4 L670.5,251.3 L671.5,252.2 L672.5,253.1 L673.5,254.1 L674.5,255.1 L675.5,256.0 L676.5,257.0 L677.5,258.0 L678.5,259.1 L679.5,260.1 L680.5,261.1 L681.5,262.2 L682.5,263.2 L683.5,264.3 L684.5,265.4 L685.5,266.5 L686.5,267.6 L687.5,268.7 L688.5,269.8 L689.5,270.9 L690.5,272.0 L691.5,273.1 L692.5,274.2 L693.5,275.3 L694.5,276.4 L695.5,277.5 L696.5,278.6 L697.5,279.7 L698.5,280.8 L699.5,281.9 L700.5,283.0 L701.5,284.1 L702.5,285.2 L703.5,286.3 L704.5,287.3 L705.5,288.4 L706.5,289.4 L707.5,290.5 L708.5,291.5 L709.5,292.5 L710.5,293.5 L711.5,294.5 L712.5,295.5 L713.5,296.4 L714.5,297.4 L715.5,298.3 L716.5,299.2 L717.5,300.1 L718.5,301.0 L719.5,301.9 L720.5,302.7 L721.5,303.5 L722.5,304.3 L723.5,305.1 L724.5,305.8 L725.5,306.5 L726.5,307.2 L727.5,307.9 L728.5,308.5 L729.5,309.1 L730.5,309.7 L731.5,310.3 L732.5,310.8 L733.5,311.4 L734.5,312.0 L735.5,312.5 L736.5,313.1 L737.5,313.7 L738.5,314.4 L739.5,315.1 L740.5,315.8 L741.5,316.5 L742.5,317.2 L743.5,317.9 L744.5,318.6 L745.5,319.3 L746.5,319.9 L747.5,320.5 L748.5,321.0 L749.5,321.5 L750.5,322.0 L751.5,322.4 L752.5,322.8 L753.5,323.2 L754.5,323.5 L755.5,323.9 L756.5,324.2 L757.5,324.4 L758.5,324.7 L759.5,325.0 L760.5,325.2 L761.5,325.5 L762.5,325.8 L763.5,326.0 L764.5,326.3 L765.5,326.5 L766.5,326.7 L767.5,327.0 L768.5,327.2 L769.5,327.4 L770.5,327.6 L771.5,327.9 L772.5,328.1 L773.5,328.3 L774.5,328.5 L775.5,328.7 L776.5,328.9 L777.5,329.1 L778.5,329.3 L779.5,329.5 L780.5,329.7 L781.5,329.9 L782.5,330.1 L783.5,330.2 L784.5,330.4 L785.5,330.6 L786.5,330.8 L787.5,330.9 L788.5,331.1 L789.5,331.3 L790.5,331.4 L791.5,331.6 L792.5,331.8 L793.5,331.9 L794.5,332.1 L795.5,332.2 L796.5,332.4 L797.5,332.5 L798.5,332.7 L799.5,332.8 L800.5,333.0 L801.5,333.1 L802.5,333.3 L803.5,333.4 L804.5,333.5 L805.5,333.7 L806.5,333.8 L807.5,334.0 L808.5,334.1" stroke="#ff0000" stroke-width="0.95"/>
<path d="M457.5,330.5 L458.5,330.6 L459.5,330.7 L460.5,330.8 L461.5,330.8 L462.5,330.9 L463.5,331.0 L464.5,331.1 L465.5,331.2 L466.5,331.3 L467.5,331.4 L468.5,331.4 L469.5,331.5 L470.5,331.5 L471.5,331.6 L472.5,331.6 L473.5,331.7 L474.5,331.7 L475.5,331.7 L476.5,331.7 L477.5,331.7 L478.5,331.7 L479.5,331.6 L480.5,331.5 L481.5,331.5 L482.5,331.4 L483.5,331.3 L484.5,331.1 L485.5,331.0 L486.5,330.8 L487.5,330.6 L488.5,330.4 L489.5,330.1 L490.5,329.9 L491.5,329.6 L492.5,329.2 L493.5,328.9 L494.5,328.5 L495.5,328.1 L496.5,327.7 L497.5,327.2 L498.5,326.7 L499.5,326.2 L500.5,325.6 L501.5,325.1 L502.5,324.5 L503.5,323.9 L504.5,323.3 L505.5,322.7 L506.5,322.1 L507.5,321.5 L508.5,320.8 L509.5,320.2 L510.5,319.5 L511.5,318.9 L512.5,318.2 L513.5,317.6 L514.5,316.9 L515.5,316.3 L516.5,315.7 L517.5,315.1 L518.5,314.4 L519.5,313.8 L520.5,313.3 L521.5,312.7 L522.5,312.2 L523.5,311.6 L524.5,311.1 L525.5,310.6 L526.5,310.1 L527.5,309.6 L528.5,309.2 L529.5,308.7 L530.5,308.2 L531.5,307.8 L532.5,307.3 L533.5,306.9 L534.5,306.4 L535.5,306.0 L536.5,305.5 L537.5,305.0 L538.5,304.5 L539.5,304.1 L540.5,303.6 L541.5,303.1 L542.5,302.5 L543.5,302.0 L544.5,301.4 L545.5,300.9 L546.5,300.3 L547.5,299.7 L548.5,299.0 L549.5,298.4 L550.5,297.7 L551.5,297.0 L552.5,296.2 L553.5,295.4 L554.5,294.6 L555.5,293.8 L556.5,292.9 L557.5,292.0 L558.5,291.0 L559.5,290.0 L560.5,289.0 L561.5,287.9 L562.5,286.8 L563.5,285.6 L564.5,284.4 L565.5,283.1 L566.5,281.8 L567.5,280.4 L568.5,279.0 L569.5,277.5 L570.5,275.9 L571.5,274.3 L572.5,272.6 L573.5,270.8 L574.5,269.0 L575.5,267.1 L576.5,265.1 L577.5,263.0 L578.5,260.8 L579.5,258.6 L580.5,256.3 L581.5,253.9 L582.5,251.4 L583.5,248.8 L584.5,246.2 L585.5,243.5 L586.5,240.9 L587.5,238.3 L588.5,235.8 L589.5,233.4 L590.5,231.0 L591.5,228.8 L592.5,226.6 L593.5,224.4 L594.5,222.3 L595.5,220.2 L596.5,218.0 L597.5,215.9 L598.5,213.7 L599.5,211.5 L600.5,209.3 L601.5,207.1 L602.5,204.9 L603.5,202.7 L604.5,200.5 L605.5,198.3 L606.5,196.1 L607.5,193.9 L608.5,191.7 L609.5,189.6 L610.5,187.5 L611.5,185.4 L612.5,183.4 L613.5,181.4 L614.5,179.5 L615.5,177.6 L616.5,175.7 L617.5,174.0 L618.5,172.4 L619.5,170.9 L620.5,169.5 L621.5,168.2 L622.5,167.0 L623.5,165.9 L624.5,165.0 L625.5,164.2 L626.5,163.5 L627.5,162.9 L628.5,162.4 L629.5,162.0 L630.5,161.8 L631.5,161.7 L632.5,161.7 L633.5,161.8 L634.5,162.1 L635.5,162.4 L636.5,162.8 L637.5,163.4 L638.5,164.0 L639.5,164.8 L640.5,165.6 L641.5,166.6 L642.5,167.6 L643.5,168.7 L644.5,169.9 L645.5,171.2 L646.5,172.5 L647.5,174.0 L648.5,175.5 L649.5,177.0 L650.5,178.7 L651.5,180.4 L652.5,182.1 L653.5,184.0 L654.5,185.8 L655.5,187.7 L656.5,189.6 L657.5,191.6 L658.5,193.6 L659.5,195.7 L660.5,197.7 L661.5,199.8 L662.5,202.0 L663.5,204.1 L664.5,206.3 L665.5,208.4 L666.5,210.6 L667.5,212.9 L668.5,215.1 L669.5,217.3 L670.5,219.6 L671.5,221.8 L672.5,224.1 L673.5,226.4 L674.5,228.6 L675.5,230.9 L676.5,233.2 L677.5,235.4 L678.5,237.7 L679.5,239.9 L680.5,242.2 L681.5,244.4 L682.5,246.6 L683.5,248.8 L684.5,251.0 L685.5,253.2 L686.5,255.3 L687.5,257.4 L688.5,259.3 L689.5,261.2 L690.5,263.0 L691.5,264.8 L692.5,266.4 L693.5,268.0 L694.5,269.6 L695.5,271.1 L696.5,272.6 L697.5,274.0 L698.5,275.5 L699.5,276.9 L700.5,278.3 L701.5,279.7 L702.5,281.1 L703.5,282.4 L704.5,283.7 L705.5,285.0 L706.5,286.2 L707.5,287.5 L708.5,288.6 L709.5,289.8 L710.5,290.9 L711.5,292.0 L712.5,293.1 L713.5,294.1 L714.5,295.1 L715.5,296.0 L716.5,296.9 L717.5,297.8 L718.5,298.6 L719.5,299.3 L720.5,300.1 L721.5,300.8 L722.5,301.6 L723.5,302.3 L724.5,303.0 L725.5,303.8 L726.5,304.5 L727.5,305.3 L728.5,306.1 L729.5,307.0 L730.5,307.8 L731.5,308.7 L732.5,309.5 L733.5,310.4 L734.5,311.3 L735.5,312.1 L736.5,312.9 L737.5,313.6 L738.5,314.3 L739.5,315.0 L740.5,315.5 L741.5,316.0 L742.5,316.5 L743.5,316.9 L744.5,317.2 L745.5,317.6 L746.5,317.8 L747.5,318.0 L748.5,318.3 L749.5,318.4 L750.5,318.6 L751.5,318.7 L752.5,318.9 L753.5,319.0 L754.5,319.1 L755.5,319.3 L756.5,319.4 L757.5,319.5 L758.5,319.6 L759.5,319.8 L760.5,319.9 L761.5,320.0 L762.5,320.2 L763.5,320.3 L764.5,320.4 L765.5,320.6 L766.5,320.7 L767.5,320.9 L768.5,321.1 L769.5,321.2 L770.5,321.4 L771.5,321.6 L772.5,321.8 L773.5,322.0 L774.5,322.2 L775.5,322.4 L776.5,322.6 L777.5,322.9 L778.5,323.1 L779.5,323.4 L780.5,323.7 L781.5,324.0 L782.5,324.3 L783.5,324.6 L784.5,324.9 L785.5,325.2 L786.5,325.6 L787.5,325.9 L788.5,326.3 L789.5,326.6 L790.5,327.0 L791.5,327.3 L792.5,327.6 L793.5,328.0 L794.5,328.3 L795.5,328.6 L796.5,328.8 L797.5,329.1 L798.5,329.3 L799.5,329.6 L800.5,329.7 L801.5,329.9 L802.5,330.0 L803.5,330.1 L804.5,330.2 L805.5,330.2 L806.5,330.2 L807.5,330.2 L808.5,330.1" stroke="#0000ff" stroke-width="0.95"/>
<path d="M457.5,346.7 L458.5,346.6 L459.5,346.5 L460.5,346.5 L461.5,346.4 L462.5,346.4 L463.5,346.3 L464.5,346.3 L465.5,346.3 L466.5,346.2 L467.5,346.2 L468.5,346.2 L469.5,346.1 L470.5,346.1 L471.5,346.0 L472.5,346.0 L473.5,345.9 L474.5,345.8 L475.5,345.7 L476.5,345.6 L477.5,345.5 L478.5,345.4 L479.5,345.3 L480.5,345.1 L481.5,344.9 L482.5,344.7 L483.5,344.5 L484.5,344.2 L485.5,343.9 L486.5,343.6 L487.5,343.3 L488.5,342.9 L489.5,342.5 L490.5,342.1 L491.5,341.7 L492.5,341.2 L493.5,340.7 L494.5,340.2 L495.5,339.7 L496.5,339.2 L497.5,338.7 L498.5,338.2 L499.5,337.6 L500.5,337.1 L501.5,336.6 L502.5,336.1 L503.5,335.6 L504.5,335.2 L505.5,334.7 L506.5,334.3 L507.5,333.9 L508.5,333.6 L509.5,333.2 L510.5,332.9 L511.5,332.6 L512.5,332.4 L513.5,332.1 L514.5,331.8 L515.5,331.6 L516.5,331.3 L517.5,331.1 L518.5,330.8 L519.5,330.5 L520.5,330.2 L521.5,329.9 L522.5,329.6 L523.5,329.1 L524.5,328.6 L525.5,327.9 L526.5,327.0 L527.5,325.9 L528.5,324.5 L529.5,322.8 L530.5,321.0 L531.5,319.2 L532.5,317.3 L533.5,315.4 L534.5,313.7 L535.5,312.3 L536.5,311.0 L537.5,309.9 L538.5,308.9 L539.5,307.8 L540.5,306.8 L541.5,305.6 L542.5,304.3 L543.5,302.7 L544.5,301.1 L545.5,299.2 L546.5,297.1 L547.5,294.8 L548.5,292.4 L549.5,289.9 L550.5,287.4 L551.5,285.0 L552.5,282.6 L553.5,280.3 L554.5,278.0 L555.5,275.8 L556.5,273.5 L557.5,271.2 L558.5,269.0 L559.5,266.6 L560.5,264.3 L561.5,261.9 L562.5,259.4 L563.5,256.8 L564.5,254.1 L565.5,251.4 L566.5,248.7 L567.5,245.9 L568.5,243.1 L569.5,240.3 L570.5,237.5 L571.5,234.8 L572.5,232.1 L573.5,229.5 L574.5,226.8 L575.5,224.2 L576.5,221.5 L577.5,218.8 L578.5,216.0 L579.5,213.2 L580.5,210.3 L581.5,207.3 L582.5,204.2 L583.5,201.1 L584.5,198.1 L585.5,195.0 L586.5,192.0 L587.5,189.0 L588.5,186.2 L589.5,183.4 L590.5,180.9 L591.5,178.4 L592.5,176.1 L593.5,174.0 L594.5,171.9 L595.5,170.0 L596.5,168.3 L597.5,166.6 L598.5,165.0 L599.5,163.5 L600.5,162.2 L601.5,160.9 L602.5,159.6 L603.5,158.4 L604.5,157.2 L605.5,156.0 L606.5,154.8 L607.5,153.5 L608.5,152.2 L609.5,150.8 L610.5,149.3 L611.5,147.7 L612.5,146.0 L613.5,144.2 L614.5,142.3 L615.5,140.3 L616.5,138.2 L617.5,136.1 L618.5,133.8 L619.5,131.6 L620.5,129.4 L621.5,127.1 L622.5,125.0 L623.5,123.0 L624.5,121.0 L625.5,119.3 L626.5,117.7 L627.5,116.3 L628.5,115.1 L629.5,114.1 L630.5,113.5 L631.5,113.1 L632.5,113.0 L633.5,113.2 L634.5,113.7 L635.5,114.4 L636.5,115.2 L637.5,116.1 L638.5,117.1 L639.5,118.1 L640.5,119.1 L641.5,120.3 L642.5,121.4 L643.5,122.6 L644.5,123.9 L645.5,125.2 L646.5,126.5 L647.5,127.9 L648.5,129.3 L649.5,130.8 L650.5,132.2 L651.5,133.7 L652.5,135.3 L653.5,136.8 L654.5,138.4 L655.5,140.1 L656.5,141.7 L657.5,143.3 L658.5,145.0 L659.5,146.7 L660.5,148.5 L661.5,150.2 L662.5,152.0 L663.5,153.9 L664.5,155.7 L665.5,157.6 L666.5,159.6 L667.5,161.5 L668.5,163.5 L669.5,165.6 L670.5,167.7 L671.5,169.8 L672.5,172.0 L673.5,174.2 L674.5,176.5 L675.5,178.8 L676.5,181.1 L677.5,183.6 L678.5,186.0 L679.5,188.6 L680.5,191.2 L681.5,193.8 L682.5,196.6 L683.5,199.4 L684.5,202.2 L685.5,205.2 L686.5,208.2 L687.5,211.3 L688.5,214.5 L689.5,217.8 L690.5,221.2 L691.5,224.7 L692.5,228.2 L693.5,231.8 L694.5,235.3 L695.5,238.8 L696.5,242.2 L697.5,245.5 L698.5,248.6 L699.5,251.7 L700.5,254.6 L701.5,257.4 L702.5,260.1 L703.5,262.8 L704.5,265.3 L705.5,267.7 L706.5,270.1 L707.5,272.4 L708.5,274.7 L709.5,276.8 L710.5,279.0 L711.5,281.0 L712.5,283.1 L713.5,285.1 L714.5,287.0 L715.5,289.0 L716.5,290.9 L717.5,292.8 L718.5,294.7 L719.5,296.6 L720.5,298.4 L721.5,300.2 L722.5,302.0 L723.5,303.7 L724.5,305.4 L725.5,307.1 L726.5,308.7 L727.5,310.3 L728.5,311.8 L729.5,313.2 L730.5,314.6 L731.5,316.0 L732.5,317.3 L733.5,318.5 L734.5,319.7 L735.5,320.9 L736.5,321.9 L737.5,323.0 L738.5,324.0 L739.5,324.9 L740.5,325.8 L741.5,326.6 L742.5,327.4 L743.5,328.1 L744.5,328.8 L745.5,329.4 L746.5,330.0 L747.5,330.5 L748.5,331.0 L749.5,331.4 L750.5,331.8 L751.5,332.1 L752.5,332.4 L753.5,332.6 L754.5,332.8 L755.5,333.0 L756.5,333.1 L757.5,333.3 L758.5,333.4 L759.5,333.5 L760.5,333.7 L761.5,333.8 L762.5,334.0 L763.5,334.2 L764.5,334.5 L765.5,334.7 L766.5,335.0 L767.5,335.3 L768.5,335.7 L769.5,336.0 L770.5,336.4 L771.5,336.8 L772.5,337.2 L773.5,337.6 L774.5,338.0 L775.5,338.4 L776.5,338.9 L777.5,339.3 L778.5,339.8 L779.5,340.2 L780.5,340.7 L781.5,341.2 L782.5,341.6 L783.5,342.1 L784.5,342.6 L785.5,343.0 L786.5,343.5 L787.5,343.9 L788.5,344.3 L789.5,344.8 L790.5,345.2 L791.5,345.6 L792.5,346.0 L793.5,346.3 L794.5,346.7 L795.5,347.0 L796.5,347.3 L797.5,347.6 L798.5,347.8 L799.5,348.1 L800.5,348.3 L801.5,348.5 L802.5,348.6 L803.5,348.7 L804.5,348.8 L805.5,348.9 L806.5,348.9 L807.5,348.8 L808.5,348.8" stroke="#00cd00" stroke-width="0.95"/>
<path d="M457.5,342.3 L458.5,342.0 L459.5,341.8 L460.5,341.5 L461.5,341.2 L462.5,340.9 L463.5,340.6 L464.5,340.3 L465.5,340.0 L466.5,339.7 L467.5,339.4 L468.5,339.1 L469.5,338.7 L470.5,338.4 L471.5,338.1 L472.5,337.7 L473.5,337.4 L474.5,337.0 L475.5,336.7 L476.5,336.3 L477.5,336.0 L478.5,335.6 L479.5,335.3 L480.5,334.9 L481.5,334.5 L482.5,334.1 L483.5,333.8 L484.5,333.4 L485.5,333.0 L486.5,332.6 L487.5,332.2 L488.5,331.8 L489.5,331.4 L490.5,331.0 L491.5,330.6 L492.5,330.1 L493.5,329.7 L494.5,329.3 L495.5,328.9 L496.5,328.4 L497.5,328.0 L498.5,327.5 L499.5,327.1 L500.5,326.7 L501.5,326.2 L502.5,325.7 L503.5,325.3 L504.5,324.8 L505.5,324.4 L506.5,323.9 L507.5,323.4 L508.5,322.9 L509.5,322.5 L510.5,322.0 L511.5,321.5 L512.5,321.0 L513.5,320.5 L514.5,320.0 L515.5,319.5 L516.5,319.0 L517.5,318.5 L518.5,318.0 L519.5,317.5 L520.5,317.0 L521.5,316.4 L522.5,315.9 L523.5,315.4 L524.5,314.9 L525.5,314.3 L526.5,313.8 L527.5,313.3 L528.5,312.7 L529.5,312.2 L530.5,311.6 L531.5,311.1 L532.5,310.5 L533.5,310.0 L534.5,309.4 L535.5,308.8 L536.5,308.3 L537.5,307.7 L538.5,307.1 L539.5,306.4 L540.5,305.8 L541.5,305.1 L542.5,304.3 L543.5,303.5 L544.5,302.6 L545.5,301.6 L546.5,300.6 L547.5,299.5 L548.5,298.3 L549.5,296.9 L550.5,295.5 L551.5,294.0 L552.5,292.3 L553.5,290.5 L554.5,288.6 L555.5,286.6 L556.5,284.5 L557.5,282.3 L558.5,280.1 L559.5,277.8 L560.5,275.6 L561.5,273.3 L562.5,271.0 L563.5,268.7 L564.5,266.4 L565.5,264.2 L566.5,262.0 L567.5,259.9 L568.5,257.7 L569.5,255.6 L570.5,253.4 L571.5,251.3 L572.5,249.1 L573.5,246.9 L574.5,244.7 L575.5,242.5 L576.5,240.2 L577.5,237.9 L578.5,235.6 L579.5,233.3 L580.5,231.0 L581.5,228.7 L582.5,226.4 L583.5,224.1 L584.5,221.8 L585.5,219.6 L586.5,217.4 L587.5,215.2 L588.5,213.0 L589.5,210.9 L590.5,208.8 L591.5,206.8 L592.5,204.9 L593.5,203.1 L594.5,201.3 L595.5,199.6 L596.5,198.1 L597.5,196.6 L598.5,195.3 L599.5,194.1 L600.5,193.0 L601.5,192.1 L602.5,191.4 L603.5,190.8 L604.5,190.2 L605.5,189.8 L606.5,189.6 L607.5,189.4 L608.5,189.2 L609.5,189.2 L610.5,189.2 L611.5,189.3 L612.5,189.4 L613.5,189.6 L614.5,189.8 L615.5,190.0 L616.5,190.2 L617.5,190.4 L618.5,190.6 L619.5,190.7 L620.5,190.9 L621.5,190.9 L622.5,191.0 L623.5,191.0 L624.5,191.0 L625.5,190.9 L626.5,190.8 L627.5,190.7 L628.5,190.5 L629.5,190.4 L630.5,190.2 L631.5,190.0 L632.5,189.8 L633.5,189.5 L634.5,189.3 L635.5,189.0 L636.5,188.8 L637.5,188.6 L638.5,188.3 L639.5,188.1 L640.5,187.9 L641.5,187.7 L642.5,187.5 L643.5,187.3 L644.5,187.2 L645.5,187.0 L646.5,186.9 L647.5,186.9 L648.5,186.9 L649.5,186.9 L650.5,186.9 L651.5,187.0 L652.5,187.2 L653.5,187.4 L654.5,187.6 L655.5,187.9 L656.5,188.3 L657.5,188.8 L658.5,189.3 L659.5,189.9 L660.5,190.6 L661.5,191.4 L662.5,192.2 L663.5,193.2 L664.5,194.3 L665.5,195.4 L666.5,196.7 L667.5,198.1 L668.5,199.5 L669.5,201.1 L670.5,202.9 L671.5,204.7 L672.5,206.6 L673.5,208.5 L674.5,210.5 L675.5,212.6 L676.5,214.7 L677.5,216.9 L678.5,219.0 L679.5,221.2 L680.5,223.3 L681.5,225.4 L682.5,227.5 L683.5,229.5 L684.5,231.5 L685.5,233.4 L686.5,235.3 L687.5,237.1 L688.5,238.8 L689.5,240.5 L690.5,242.2 L691.5,243.8 L692.5,245.4 L693.5,247.0 L694.5,248.5 L695.5,250.0 L696.5,251.5 L697.5,252.9 L698.5,254.4 L699.5,255.8 L700.5,257.2 L701.5,258.5 L702.5,259.9 L703.5,261.2 L704.5,262.5 L705.5,263.8 L706.5,265.1 L707.5,266.4 L708.5,267.7 L709.5,269.0 L710.5,270.3 L711.5,271.6 L712.5,272.8 L713.5,274.1 L714.5,275.4 L715.5,276.7 L716.5,278.0 L717.5,279.3 L718.5,280.5 L719.5,281.8 L720.5,283.1 L721.5,284.4 L722.5,285.6 L723.5,286.9 L724.5,288.2 L725.5,289.4 L726.5,290.7 L727.5,291.9 L728.5,293.1 L729.5,294.4 L730.5,295.6 L731.5,296.8 L732.5,298.0 L733.5,299.1 L734.5,300.3 L735.5,301.4 L736.5,302.6 L737.5,303.7 L738.5,304.8 L739.5,305.9 L740.5,306.9 L741.5,308.0 L742.5,309.0 L743.5,310.0 L744.5,311.0 L745.5,312.0 L746.5,312.9 L747.5,313.9 L748.5,314.7 L749.5,315.6 L750.5,316.5 L751.5,317.3 L752.5,318.1 L753.5,318.9 L754.5,319.6 L755.5,320.3 L756.5,321.0 L757.5,321.6 L758.5,322.3 L759.5,322.9 L760.5,323.5 L761.5,324.0 L762.5,324.5 L763.5,325.0 L764.5,325.5 L765.5,326.0 L766.5,326.4 L767.5,326.8 L768.5,327.2 L769.5,327.6 L770.5,328.0 L771.5,328.3 L772.5,328.6 L773.5,328.9 L774.5,329.2 L775.5,329.4 L776.5,329.7 L777.5,329.9 L778.5,330.1 L779.5,330.3 L780.5,330.5 L781.5,330.6 L782.5,330.8 L783.5,330.9 L784.5,331.0 L785.5,331.2 L786.5,331.3 L787.5,331.3 L788.5,331.4 L789.5,331.5 L790.5,331.5 L791.5,331.6 L792.5,331.6 L793.5,331.6 L794.5,331.6 L795.5,331.7 L796.5,331.7 L797.5,331.7 L798.5,331.6 L799.5,331.6 L800.5,331.6 L801.5,331.6 L802.5,331.5 L803.5,331.5 L804.5,331.5 L805.5,331.4 L806.5,331.4 L807.5,331.4 L808.5,331.3" stroke="#00ffff" stroke-width="0.95"/>
<path d="M457.5,320.1 L458.5,320.1 L459.5,320.1 L460.5,320.2 L461.5,320.2 L462.5,320.2 L463.5,320.2 L464.5,320.2 L465.5,320.3 L466.5,320.3 L467.5,320.3 L468.5,320.3 L469.5,320.4 L470.5,320.4 L471.5,320.4 L472.5,320.4 L473.5,320.4 L474.5,320.4 L475.5,320.5 L476.5,320.5 L477.5,320.5 L478.5,320.5 L479.5,320.5 L480.5,320.5 L481.5,320.5 L482.5,320.5 L483.5,320.5 L484.5,320.4 L485.5,320.4 L486.5,320.4 L487.5,320.4 L488.5,320.3 L489.5,320.3 L490.5,320.2 L491.5,320.2 L492.5,320.1 L493.5,320.1 L494.5,320.0 L495.5,319.9 L496.5,319.9 L497.5,319.8 L498.5,319.7 L499.5,319.6 L500.5,319.5 L501.5,319.4 L502.5,319.2 L503.5,319.1 L504.5,319.0 L505.5,318.8 L506.5,318.6 L507.5,318.5 L508.5,318.3 L509.5,318.1 L510.5,317.9 L511.5,317.7 L512.5,317.5 L513.5,317.3 L514.5,317.0 L515.5,316.8 L516.5,316.5 L517.5,316.3 L518.5,316.0 L519.5,315.7 L520.5,315.4 L521.5,315.1 L522.5,314.7 L523.5,314.4 L524.5,314.1 L525.5,313.7 L526.5,313.3 L527.5,312.9 L528.5,312.5 L529.5,312.1 L530.5,311.7 L531.5,311.3 L532.5,310.8 L533.5,310.4 L534.5,309.9 L535.5,309.5 L536.5,309.0 L537.5,308.5 L538.5,308.0 L539.5,307.5 L540.5,307.0 L541.5,306.4 L542.5,305.9 L543.5,305.4 L544.5,304.8 L545.5,304.3 L546.5,303.7 L547.5,303.1 L548.5,302.5 L549.5,301.9 L550.5,301.3 L551.5,300.7 L552.5,300.1 L553.5,299.5 L554.5,298.8 L555.5,298.1 L556.5,297.5 L557.5,296.7 L558.5,296.0 L559.5,295.3 L560.5,294.5 L561.5,293.7 L562.5,292.9 L563.5,292.0 L564.5,291.1 L565.5,290.2 L566.5,289.3 L567.5,288.3 L568.5,287.4 L569.5,286.4 L570.5,285.4 L571.5,284.4 L572.5,283.4 L573.5,282.3 L574.5,281.3 L575.5,280.3 L576.5,279.2 L577.5,278.2 L578.5,277.2 L579.5,276.2 L580.5,275.2 L581.5,274.1 L582.5,273.1 L583.5,272.1 L584.5,271.0 L585.5,270.0 L586.5,268.9 L587.5,267.8 L588.5,266.7 L589.5,265.6 L590.5,264.4 L591.5,263.2 L592.5,262.0 L593.5,260.8 L594.5,259.6 L595.5,258.4 L596.5,257.2 L597.5,255.9 L598.5,254.7 L599.5,253.5 L600.5,252.3 L601.5,251.1 L602.5,249.9 L603.5,248.7 L604.5,247.5 L605.5,246.4 L606.5,245.3 L607.5,244.2 L608.5,243.2 L609.5,242.1 L610.5,241.1 L611.5,240.1 L612.5,239.2 L613.5,238.3 L614.5,237.4 L615.5,236.5 L616.5,235.7 L617.5,234.9 L618.5,234.1 L619.5,233.4 L620.5,232.7 L621.5,232.1 L622.5,231.5 L623.5,230.9 L624.5,230.4 L625.5,229.9 L626.5,229.5 L627.5,229.0 L628.5,228.7 L629.5,228.4 L630.5,228.1 L631.5,227.8 L632.5,227.7 L633.5,227.5 L634.5,227.4 L635.5,227.4 L636.5,227.3 L637.5,227.4 L638.5,227.5 L639.5,227.6 L640.5,227.8 L641.5,228.0 L642.5,228.3 L643.5,228.6 L644.5,228.9 L645.5,229.3 L646.5,229.8 L647.5,230.2 L648.5,230.8 L649.5,231.3 L650.5,231.9 L651.5,232.5 L652.5,233.2 L653.5,233.8 L654.5,234.6 L655.5,235.3 L656.5,236.1 L657.5,236.9 L658.5,237.7 L659.5,238.6 L660.5,239.5 L661.5,240.4 L662.5,241.3 L663.5,242.2 L664.5,243.2 L665.5,244.2 L666.5,245.2 L667.5,246.2 L668.5,247.3 L669.5,248.3 L670.5,249.4 L671.5,250.5 L672.5,251.6 L673.5,252.7 L674.5,253.8 L675.5,254.9 L676.5,256.1 L677.5,257.2 L678.5,258.4 L679.5,259.5 L680.5,260.7 L681.5,261.8 L682.5,263.0 L683.5,264.1 L684.5,265.3 L685.5,266.4 L686.5,267.6 L687.5,268.7 L688.5,269.8 L689.5,271.0 L690.5,272.1 L691.5,273.2 L692.5,274.3 L693.5,275.4 L694.5,276.4 L695.5,277.5 L696.5,278.5 L697.5,279.5 L698.5,280.5 L699.5,281.5 L700.5,282.5 L701.5,283.4 L702.5,284.3 L703.5,285.2 L704.5,286.1 L705.5,287.0 L706.5,287.8 L707.5,288.7 L708.5,289.5 L709.5,290.3 L710.5,291.2 L711.5,292.0 L712.5,292.8 L713.5,293.6 L714.5,294.4 L715.5,295.2 L716.5,295.9 L717.5,296.7 L718.5,297.5 L719.5,298.3 L720.5,299.0 L721.5,299.8 L722.5,300.6 L723.5,301.3 L724.5,302.1 L725.5,302.8 L726.5,303.5 L727.5,304.3 L728.5,305.0 L729.5,305.7 L730.5,306.4 L731.5,307.1 L732.5,307.8 L733.5,308.5 L734.5,309.2 L735.5,309.8 L736.5,310.5 L737.5,311.1 L738.5,311.8 L739.5,312.4 L740.5,313.0 L741.5,313.6 L742.5,314.2 L743.5,314.8 L744.5,315.3 L745.5,315.9 L746.5,316.4 L747.5,316.9 L748.5,317.4 L749.5,317.9 L750.5,318.4 L751.5,318.8 L752.5,319.3 L753.5,319.7 L754.5,320.1 L755.5,320.4 L756.5,320.8 L757.5,321.1 L758.5,321.4 L759.5,321.7 L760.5,322.0 L761.5,322.3 L762.5,322.6 L763.5,322.8 L764.5,323.0 L765.5,323.2 L766.5,323.4 L767.5,323.6 L768.5,323.8 L769.5,323.9 L770.5,324.1 L771.5,324.2 L772.5,324.4 L773.5,324.5 L774.5,324.6 L775.5,324.7 L776.5,324.8 L777.5,324.8 L778.5,324.9 L779.5,325.0 L780.5,325.0 L781.5,325.1 L782.5,325.1 L783.5,325.1 L784.5,325.2 L785.5,325.2 L786.5,325.2 L787.5,325.2 L788.5,325.2 L789.5,325.2 L790.5,325.2 L791.5,325.3 L792.5,325.3 L793.5,325.2 L794.5,325.2 L795.5,325.2 L796.5,325.2 L797.5,325.2 L798.5,325.2 L799.5,325.2 L800.5,325.2 L801.5,325.2 L802.5,325.2 L803.5,325.2 L804.5,325.3 L805.5,325.3 L806.5,325.3 L807.5,325.3 L808.5,325.3" stroke="#ff00ff" stroke-width="0.95"/>
<path d="M457.5,333.2 L458.5,333.2 L459.5,333.3 L460.5,333.3 L461.5,333.3 L462.5,333.3 L463.5,333.2 L464.5,333.2 L465.5,333.2 L466.5,333.1 L467.5,333.1 L468.5,333.0 L469.5,333.0 L470.5,332.9 L471.5,332.8 L472.5,332.7 L473.5,332.6 L474.5,332.5 L475.5,332.4 L476.5,332.3 L477.5,332.2 L478.5,332.0 L479.5,331.9 L480.5,331.7 L481.5,331.6 L482.5,331.4 L483.5,331.3 L484.5,331.1 L485.5,330.9 L486.5,330.7 L487.5,330.6 L488.5,330.4 L489.5,330.2 L490.5,329.9 L491.5,329.7 L492.5,329.5 L493.5,329.3 L494.5,329.1 L495.5,328.8 L496.5,328.6 L497.5,328.4 L498.5,328.1 L499.5,327.9 L500.5,327.6 L501.5,327.3 L502.5,327.1 L503.5,326.8 L504.5,326.5 L505.5,326.3 L506.5,326.0 L507.5,325.7 L508.5,325.4 L509.5,325.1 L510.5,324.8 L511.5,324.5 L512.5,324.2 L513.5,323.9 L514.5,323.6 L515.5,323.3 L516.5,323.0 L517.5,322.7 L518.5,322.4 L519.5,322.0 L520.5,321.7 L521.5,321.4 L522.5,321.1 L523.5,320.7 L524.5,320.4 L525.5,320.1 L526.5,319.7 L527.5,319.4 L528.5,319.1 L529.5,318.7 L530.5,318.4 L531.5,318.1 L532.5,317.7 L533.5,317.4 L534.5,317.0 L535.5,316.7 L536.5,316.4 L537.5,316.0 L538.5,315.7 L539.5,315.3 L540.5,315.0 L541.5,314.6 L542.5,314.3 L543.5,314.0 L544.5,313.6 L545.5,313.3 L546.5,312.9 L547.5,312.6 L548.5,312.2 L549.5,311.9 L550.5,311.6 L551.5,311.2 L552.5,310.9 L553.5,310.6 L554.5,310.2 L555.5,309.9 L556.5,309.6 L557.5,309.2 L558.5,308.9 L559.5,308.6 L560.5,308.3 L561.5,308.0 L562.5,307.6 L563.5,307.3 L564.5,307.0 L565.5,306.7 L566.5,306.4 L567.5,306.1 L568.5,305.8 L569.5,305.5 L570.5,305.2 L571.5,304.9 L572.5,304.6 L573.5,304.4 L574.5,304.1 L575.5,303.8 L576.5,303.5 L577.5,303.2 L578.5,303.0 L579.5,302.7 L580.5,302.5 L581.5,302.2 L582.5,301.9 L583.5,301.7 L584.5,301.4 L585.5,301.2 L586.5,301.0 L587.5,300.7 L588.5,300.5 L589.5,300.3 L590.5,300.0 L591.5,299.8 L592.5,299.6 L593.5,299.4 L594.5,299.2 L595.5,299.0 L596.5,298.8 L597.5,298.6 L598.5,298.4 L599.5,298.2 L600.5,298.1 L601.5,297.9 L602.5,297.7 L603.5,297.6 L604.5,297.4 L605.5,297.2 L606.5,297.1 L607.5,296.9 L608.5,296.8 L609.5,296.7 L610.5,296.5 L611.5,296.4 L612.5,296.3 L613.5,296.2 L614.5,296.1 L615.5,296.0 L616.5,295.9 L617.5,295.8 L618.5,295.7 L619.5,295.6 L620.5,295.6 L621.5,295.5 L622.5,295.4 L623.5,295.4 L624.5,295.3 L625.5,295.3 L626.5,295.3 L627.5,295.2 L628.5,295.2 L629.5,295.2 L630.5,295.2 L631.5,295.2 L632.5,295.2 L633.5,295.2 L634.5,295.2 L635.5,295.2 L636.5,295.2 L637.5,295.3 L638.5,295.3 L639.5,295.4 L640.5,295.4 L641.5,295.5 L642.5,295.5 L643.5,295.6 L644.5,295.7 L645.5,295.8 L646.5,295.9 L647.5,296.0 L648.5,296.1 L649.5,296.2 L650.5,296.3 L651.5,296.4 L652.5,296.5 L653.5,296.7 L654.5,296.8 L655.5,296.9 L656.5,297.1 L657.5,297.2 L658.5,297.4 L659.5,297.6 L660.5,297.7 L661.5,297.9 L662.5,298.1 L663.5,298.3 L664.5,298.4 L665.5,298.6 L666.5,298.8 L667.5,299.0 L668.5,299.2 L669.5,299.4 L670.5,299.6 L671.5,299.8 L672.5,300.1 L673.5,300.3 L674.5,300.5 L675.5,300.7 L676.5,301.0 L677.5,301.2 L678.5,301.5 L679.5,301.7 L680.5,301.9 L681.5,302.2 L682.5,302.4 L683.5,302.7 L684.5,303.0 L685.5,303.2 L686.5,303.5 L687.5,303.8 L688.5,304.0 L689.5,304.3 L690.5,304.6 L691.5,304.9 L692.5,305.1 L693.5,305.4 L694.5,305.7 L695.5,306.0 L696.5,306.3 L697.5,306.6 L698.5,306.9 L699.5,307.2 L700.5,307.5 L701.5,307.8 L702.5,308.1 L703.5,308.4 L704.5,308.7 L705.5,309.0 L706.5,309.3 L707.5,309.6 L708.5,309.9 L709.5,310.2 L710.5,310.5 L711.5,310.8 L712.5,311.2 L713.5,311.5 L714.5,311.8 L715.5,312.1 L716.5,312.4 L717.5,312.7 L718.5,313.0 L719.5,313.4 L720.5,313.7 L721.5,314.0 L722.5,314.3 L723.5,314.6 L724.5,315.0 L725.5,315.3 L726.5,315.6 L727.5,315.9 L728.5,316.2 L729.5,316.5 L730.5,316.9 L731.5,317.2 L732.5,317.5 L733.5,317.8 L734.5,318.1 L735.5,318.4 L736.5,318.7 L737.5,319.1 L738.5,319.4 L739.5,319.7 L740.5,320.0 L741.5,320.3 L742.5,320.6 L743.5,320.9 L744.5,321.2 L745.5,321.5 L746.5,321.8 L747.5,322.1 L748.5,322.4 L749.5,322.7 L750.5,323.0 L751.5,323.3 L752.5,323.6 L753.5,323.8 L754.5,324.1 L755.5,324.4 L756.5,324.7 L757.5,325.0 L758.5,325.2 L759.5,325.5 L760.5,325.8 L761.5,326.0 L762.5,326.3 L763.5,326.6 L764.5,326.8 L765.5,327.1 L766.5,327.3 L767.5,327.6 L768.5,327.8 L769.5,328.0 L770.5,328.3 L771.5,328.5 L772.5,328.7 L773.5,329.0 L774.5,329.2 L775.5,329.4 L776.5,329.6 L777.5,329.8 L778.5,330.0 L779.5,330.2 L780.5,330.4 L781.5,330.6 L782.5,330.8 L783.5,331.0 L784.5,331.2 L785.5,331.4 L786.5,331.5 L787.5,331.7 L788.5,331.8 L789.5,332.0 L790.5,332.2 L791.5,332.3 L792.5,332.4 L793.5,332.6 L794.5,332.7 L795.5,332.8 L796.5,332.9 L797.5,333.1 L798.5,333.2 L799.5,333.3 L800.5,333.4 L801.5,333.5 L802.5,333.5 L803.5,333.6 L804.5,333.7 L805.5,333.8 L806.5,333.8 L807.5,333.9 L808.5,333.9" stroke="#ff0000" stroke-width="1.4" stroke-dasharray="4.5 4.2"/>
<path d="M457.5,332.3 L458.5,332.3 L459.5,332.4 L460.5,332.4 L461.5,332.4 L462.5,332.4 L463.5,332.4 L464.5,332.4 L465.5,332.4 L466.5,332.4 L467.5,332.4 L468.5,332.5 L469.5,332.5 L470.5,332.4 L471.5,332.4 L472.5,332.4 L473.5,332.4 L474.5,332.4 L475.5,332.4 L476.5,332.4 L477.5,332.3 L478.5,332.3 L479.5,332.3 L480.5,332.2 L481.5,332.2 L482.5,332.1 L483.5,332.1 L484.5,332.0 L485.5,332.0 L486.5,331.9 L487.5,331.8 L488.5,331.7 L489.5,331.7 L490.5,331.6 L491.5,331.5 L492.5,331.4 L493.5,331.3 L494.5,331.1 L495.5,331.0 L496.5,330.9 L497.5,330.8 L498.5,330.6 L499.5,330.5 L500.5,330.3 L501.5,330.1 L502.5,330.0 L503.5,329.8 L504.5,329.6 L505.5,329.4 L506.5,329.2 L507.5,329.0 L508.5,328.8 L509.5,328.5 L510.5,328.3 L511.5,328.1 L512.5,327.8 L513.5,327.5 L514.5,327.3 L515.5,327.0 L516.5,326.7 L517.5,326.4 L518.5,326.1 L519.5,325.7 L520.5,325.4 L521.5,325.1 L522.5,324.7 L523.5,324.3 L524.5,324.0 L525.5,323.6 L526.5,323.2 L527.5,322.8 L528.5,322.3 L529.5,321.9 L530.5,321.5 L531.5,321.0 L532.5,320.5 L533.5,320.0 L534.5,319.6 L535.5,319.0 L536.5,318.5 L537.5,318.0 L538.5,317.4 L539.5,316.9 L540.5,316.3 L541.5,315.7 L542.5,315.1 L543.5,314.5 L544.5,313.9 L545.5,313.2 L546.5,312.6 L547.5,311.9 L548.5,311.2 L549.5,310.5 L550.5,309.8 L551.5,309.1 L552.5,308.4 L553.5,307.6 L554.5,306.8 L555.5,306.1 L556.5,305.3 L557.5,304.5 L558.5,303.7 L559.5,302.9 L560.5,302.1 L561.5,301.2 L562.5,300.4 L563.5,299.6 L564.5,298.7 L565.5,297.9 L566.5,297.0 L567.5,296.1 L568.5,295.3 L569.5,294.4 L570.5,293.5 L571.5,292.6 L572.5,291.8 L573.5,290.9 L574.5,290.0 L575.5,289.1 L576.5,288.2 L577.5,287.4 L578.5,286.5 L579.5,285.6 L580.5,284.7 L581.5,283.9 L582.5,283.0 L583.5,282.1 L584.5,281.3 L585.5,280.4 L586.5,279.6 L587.5,278.7 L588.5,277.9 L589.5,277.1 L590.5,276.2 L591.5,275.4 L592.5,274.6 L593.5,273.8 L594.5,273.0 L595.5,272.2 L596.5,271.5 L597.5,270.7 L598.5,270.0 L599.5,269.3 L600.5,268.5 L601.5,267.8 L602.5,267.1 L603.5,266.5 L604.5,265.8 L605.5,265.2 L606.5,264.5 L607.5,263.9 L608.5,263.3 L609.5,262.7 L610.5,262.2 L611.5,261.7 L612.5,261.1 L613.5,260.6 L614.5,260.1 L615.5,259.7 L616.5,259.3 L617.5,258.8 L618.5,258.4 L619.5,258.1 L620.5,257.7 L621.5,257.4 L622.5,257.1 L623.5,256.8 L624.5,256.6 L625.5,256.4 L626.5,256.2 L627.5,256.0 L628.5,255.9 L629.5,255.8 L630.5,255.7 L631.5,255.6 L632.5,255.6 L633.5,255.6 L634.5,255.6 L635.5,255.7 L636.5,255.8 L637.5,255.9 L638.5,256.1 L639.5,256.2 L640.5,256.4 L641.5,256.7 L642.5,256.9 L643.5,257.2 L644.5,257.5 L645.5,257.8 L646.5,258.1 L647.5,258.5 L648.5,258.9 L649.5,259.2 L650.5,259.7 L651.5,260.1 L652.5,260.6 L653.5,261.0 L654.5,261.5 L655.5,262.0 L656.5,262.5 L657.5,263.1 L658.5,263.6 L659.5,264.2 L660.5,264.7 L661.5,265.3 L662.5,265.9 L663.5,266.5 L664.5,267.1 L665.5,267.8 L666.5,268.4 L667.5,269.0 L668.5,269.7 L669.5,270.4 L670.5,271.0 L671.5,271.7 L672.5,272.4 L673.5,273.0 L674.5,273.7 L675.5,274.4 L676.5,275.1 L677.5,275.8 L678.5,276.5 L679.5,277.2 L680.5,277.9 L681.5,278.6 L682.5,279.3 L683.5,280.0 L684.5,280.7 L685.5,281.4 L686.5,282.1 L687.5,282.8 L688.5,283.5 L689.5,284.2 L690.5,284.9 L691.5,285.6 L692.5,286.3 L693.5,287.0 L694.5,287.6 L695.5,288.3 L696.5,289.0 L697.5,289.7 L698.5,290.4 L699.5,291.1 L700.5,291.8 L701.5,292.4 L702.5,293.1 L703.5,293.8 L704.5,294.5 L705.5,295.1 L706.5,295.8 L707.5,296.5 L708.5,297.1 L709.5,297.8 L710.5,298.4 L711.5,299.1 L712.5,299.7 L713.5,300.3 L714.5,301.0 L715.5,301.6 L716.5,302.2 L717.5,302.8 L718.5,303.4 L719.5,304.0 L720.5,304.6 L721.5,305.2 L722.5,305.8 L723.5,306.4 L724.5,307.0 L725.5,307.6 L726.5,308.1 L727.5,308.7 L728.5,309.2 L729.5,309.8 L730.5,310.3 L731.5,310.9 L732.5,311.4 L733.5,311.9 L734.5,312.5 L735.5,313.0 L736.5,313.5 L737.5,314.0 L738.5,314.5 L739.5,315.0 L740.5,315.4 L741.5,315.9 L742.5,316.4 L743.5,316.9 L744.5,317.3 L745.5,317.8 L746.5,318.2 L747.5,318.6 L748.5,319.1 L749.5,319.5 L750.5,319.9 L751.5,320.3 L752.5,320.7 L753.5,321.1 L754.5,321.5 L755.5,321.9 L756.5,322.3 L757.5,322.7 L758.5,323.0 L759.5,323.4 L760.5,323.7 L761.5,324.1 L762.5,324.4 L763.5,324.7 L764.5,325.0 L765.5,325.4 L766.5,325.7 L767.5,326.0 L768.5,326.2 L769.5,326.5 L770.5,326.8 L771.5,327.1 L772.5,327.3 L773.5,327.6 L774.5,327.8 L775.5,328.1 L776.5,328.3 L777.5,328.5 L778.5,328.7 L779.5,328.9 L780.5,329.1 L781.5,329.3 L782.5,329.5 L783.5,329.7 L784.5,329.8 L785.5,330.0 L786.5,330.2 L787.5,330.3 L788.5,330.4 L789.5,330.5 L790.5,330.7 L791.5,330.8 L792.5,330.9 L793.5,331.0 L794.5,331.0 L795.5,331.1 L796.5,331.2 L797.5,331.2 L798.5,331.3 L799.5,331.3 L800.5,331.3 L801.5,331.4 L802.5,331.4 L803.5,331.4 L804.5,331.4 L805.5,331.4 L806.5,331.3 L807.5,331.3 L808.5,331.3" stroke="#0000ff" stroke-width="1.4" stroke-dasharray="4.5 4.2"/>
<path d="M457.5,343.4 L458.5,343.1 L459.5,342.8 L460.5,342.6 L461.5,342.4 L462.5,342.2 L463.5,342.0 L464.5,341.8 L465.5,341.6 L466.5,341.5 L467.5,341.4 L468.5,341.3 L469.5,341.2 L470.5,341.1 L471.5,341.0 L472.5,341.0 L473.5,340.9 L474.5,340.9 L475.5,340.8 L476.5,340.8 L477.5,340.8 L478.5,340.7 L479.5,340.7 L480.5,340.7 L481.5,340.6 L482.5,340.6 L483.5,340.5 L484.5,340.5 L485.5,340.4 L486.5,340.4 L487.5,340.3 L488.5,340.2 L489.5,340.1 L490.5,340.0 L491.5,339.9 L492.5,339.7 L493.5,339.6 L494.5,339.4 L495.5,339.2 L496.5,339.0 L497.5,338.7 L498.5,338.5 L499.5,338.2 L500.5,337.9 L501.5,337.6 L502.5,337.3 L503.5,337.0 L504.5,336.7 L505.5,336.3 L506.5,335.9 L507.5,335.6 L508.5,335.2 L509.5,334.8 L510.5,334.4 L511.5,334.0 L512.5,333.6 L513.5,333.2 L514.5,332.8 L515.5,332.4 L516.5,332.0 L517.5,331.6 L518.5,331.2 L519.5,330.8 L520.5,330.4 L521.5,330.1 L522.5,329.7 L523.5,329.3 L524.5,328.9 L525.5,328.4 L526.5,328.0 L527.5,327.5 L528.5,326.9 L529.5,326.3 L530.5,325.7 L531.5,324.9 L532.5,324.1 L533.5,323.2 L534.5,322.2 L535.5,321.1 L536.5,319.9 L537.5,318.6 L538.5,317.3 L539.5,315.9 L540.5,314.5 L541.5,313.1 L542.5,311.7 L543.5,310.3 L544.5,308.9 L545.5,307.6 L546.5,306.3 L547.5,305.1 L548.5,303.9 L549.5,302.7 L550.5,301.6 L551.5,300.5 L552.5,299.4 L553.5,298.3 L554.5,297.2 L555.5,296.0 L556.5,294.8 L557.5,293.5 L558.5,292.2 L559.5,290.7 L560.5,289.0 L561.5,287.3 L562.5,285.3 L563.5,283.2 L564.5,280.8 L565.5,278.3 L566.5,275.7 L567.5,273.2 L568.5,270.8 L569.5,268.7 L570.5,266.8 L571.5,265.3 L572.5,263.7 L573.5,262.2 L574.5,260.4 L575.5,258.4 L576.5,256.2 L577.5,253.7 L578.5,251.2 L579.5,248.5 L580.5,245.8 L581.5,243.0 L582.5,240.2 L583.5,237.4 L584.5,234.6 L585.5,231.9 L586.5,229.1 L587.5,226.3 L588.5,223.5 L589.5,220.8 L590.5,218.1 L591.5,215.3 L592.5,212.6 L593.5,209.9 L594.5,207.2 L595.5,204.6 L596.5,201.9 L597.5,199.3 L598.5,196.7 L599.5,194.1 L600.5,191.5 L601.5,189.0 L602.5,186.5 L603.5,184.0 L604.5,181.5 L605.5,179.1 L606.5,176.7 L607.5,174.4 L608.5,172.1 L609.5,169.8 L610.5,167.7 L611.5,165.5 L612.5,163.5 L613.5,161.5 L614.5,159.6 L615.5,157.8 L616.5,156.0 L617.5,154.4 L618.5,152.8 L619.5,151.4 L620.5,150.0 L621.5,148.8 L622.5,147.6 L623.5,146.6 L624.5,145.7 L625.5,145.0 L626.5,144.3 L627.5,143.8 L628.5,143.3 L629.5,143.0 L630.5,142.8 L631.5,142.7 L632.5,142.7 L633.5,142.8 L634.5,143.0 L635.5,143.2 L636.5,143.6 L637.5,144.1 L638.5,144.7 L639.5,145.3 L640.5,146.1 L641.5,146.9 L642.5,147.8 L643.5,148.8 L644.5,149.9 L645.5,151.1 L646.5,152.3 L647.5,153.7 L648.5,155.1 L649.5,156.6 L650.5,158.1 L651.5,159.8 L652.5,161.5 L653.5,163.3 L654.5,165.1 L655.5,167.0 L656.5,169.0 L657.5,171.1 L658.5,173.2 L659.5,175.4 L660.5,177.7 L661.5,180.0 L662.5,182.3 L663.5,184.8 L664.5,187.2 L665.5,189.8 L666.5,192.4 L667.5,195.0 L668.5,197.7 L669.5,200.5 L670.5,203.3 L671.5,206.1 L672.5,208.9 L673.5,211.7 L674.5,214.6 L675.5,217.4 L676.5,220.2 L677.5,223.0 L678.5,225.7 L679.5,228.5 L680.5,231.3 L681.5,234.2 L682.5,237.0 L683.5,239.8 L684.5,242.6 L685.5,245.3 L686.5,247.8 L687.5,250.2 L688.5,252.3 L689.5,254.2 L690.5,255.9 L691.5,257.6 L692.5,259.2 L693.5,260.9 L694.5,262.8 L695.5,264.8 L696.5,266.9 L697.5,269.2 L698.5,271.4 L699.5,273.7 L700.5,276.0 L701.5,278.2 L702.5,280.5 L703.5,282.7 L704.5,284.8 L705.5,286.9 L706.5,289.0 L707.5,291.0 L708.5,293.0 L709.5,294.8 L710.5,296.7 L711.5,298.4 L712.5,300.1 L713.5,301.7 L714.5,303.2 L715.5,304.6 L716.5,305.9 L717.5,307.1 L718.5,308.3 L719.5,309.4 L720.5,310.4 L721.5,311.4 L722.5,312.4 L723.5,313.3 L724.5,314.2 L725.5,315.1 L726.5,316.0 L727.5,316.9 L728.5,317.7 L729.5,318.6 L730.5,319.5 L731.5,320.3 L732.5,321.1 L733.5,321.9 L734.5,322.7 L735.5,323.5 L736.5,324.3 L737.5,325.1 L738.5,325.8 L739.5,326.5 L740.5,327.2 L741.5,327.9 L742.5,328.5 L743.5,329.2 L744.5,329.8 L745.5,330.4 L746.5,330.9 L747.5,331.5 L748.5,332.0 L749.5,332.5 L750.5,333.0 L751.5,333.5 L752.5,333.9 L753.5,334.4 L754.5,334.8 L755.5,335.2 L756.5,335.6 L757.5,335.9 L758.5,336.3 L759.5,336.6 L760.5,336.9 L761.5,337.2 L762.5,337.5 L763.5,337.8 L764.5,338.1 L765.5,338.3 L766.5,338.5 L767.5,338.8 L768.5,339.0 L769.5,339.2 L770.5,339.4 L771.5,339.5 L772.5,339.7 L773.5,339.8 L774.5,340.0 L775.5,340.1 L776.5,340.3 L777.5,340.4 L778.5,340.5 L779.5,340.6 L780.5,340.7 L781.5,340.8 L782.5,340.9 L783.5,341.0 L784.5,341.0 L785.5,341.1 L786.5,341.2 L787.5,341.2 L788.5,341.3 L789.5,341.3 L790.5,341.4 L791.5,341.4 L792.5,341.5 L793.5,341.5 L794.5,341.6 L795.5,341.6 L796.5,341.7 L797.5,341.7 L798.5,341.8 L799.5,341.8 L800.5,341.8 L801.5,341.9 L802.5,341.9 L803.5,342.0 L804.5,342.1 L805.5,342.1 L806.5,342.2 L807.5,342.3 L808.5,342.3" stroke="#00cd00" stroke-width="1.4" stroke-dasharray="4.5 4.2"/>
<path d="M457.5,330.1 L458.5,330.1 L459.5,330.0 L460.5,330.0 L461.5,330.0 L462.5,329.9 L463.5,329.9 L464.5,329.8 L465.5,329.7 L466.5,329.7 L467.5,329.6 L468.5,329.5 L469.5,329.4 L470.5,329.4 L471.5,329.3 L472.5,329.2 L473.5,329.1 L474.5,328.9 L475.5,328.8 L476.5,328.7 L477.5,328.6 L478.5,328.5 L479.5,328.3 L480.5,328.2 L481.5,328.0 L482.5,327.9 L483.5,327.7 L484.5,327.6 L485.5,327.4 L486.5,327.3 L487.5,327.1 L488.5,326.9 L489.5,326.7 L490.5,326.6 L491.5,326.4 L492.5,326.2 L493.5,326.0 L494.5,325.8 L495.5,325.6 L496.5,325.4 L497.5,325.1 L498.5,324.9 L499.5,324.7 L500.5,324.5 L501.5,324.2 L502.5,324.0 L503.5,323.8 L504.5,323.5 L505.5,323.3 L506.5,323.0 L507.5,322.7 L508.5,322.5 L509.5,322.2 L510.5,322.0 L511.5,321.7 L512.5,321.4 L513.5,321.1 L514.5,320.8 L515.5,320.5 L516.5,320.2 L517.5,319.9 L518.5,319.6 L519.5,319.3 L520.5,318.9 L521.5,318.6 L522.5,318.3 L523.5,317.9 L524.5,317.6 L525.5,317.2 L526.5,316.8 L527.5,316.4 L528.5,316.0 L529.5,315.6 L530.5,315.2 L531.5,314.8 L532.5,314.4 L533.5,313.9 L534.5,313.5 L535.5,313.0 L536.5,312.5 L537.5,312.0 L538.5,311.5 L539.5,311.0 L540.5,310.5 L541.5,310.0 L542.5,309.4 L543.5,308.9 L544.5,308.3 L545.5,307.7 L546.5,307.1 L547.5,306.5 L548.5,305.8 L549.5,305.2 L550.5,304.5 L551.5,303.9 L552.5,303.2 L553.5,302.5 L554.5,301.8 L555.5,301.0 L556.5,300.3 L557.5,299.5 L558.5,298.7 L559.5,297.9 L560.5,297.1 L561.5,296.3 L562.5,295.4 L563.5,294.5 L564.5,293.6 L565.5,292.7 L566.5,291.8 L567.5,290.9 L568.5,289.9 L569.5,288.9 L570.5,288.0 L571.5,287.0 L572.5,286.0 L573.5,285.0 L574.5,284.0 L575.5,282.9 L576.5,281.9 L577.5,280.9 L578.5,279.9 L579.5,278.8 L580.5,277.8 L581.5,276.8 L582.5,275.8 L583.5,274.7 L584.5,273.7 L585.5,272.7 L586.5,271.7 L587.5,270.7 L588.5,269.7 L589.5,268.7 L590.5,267.8 L591.5,266.8 L592.5,265.9 L593.5,264.9 L594.5,264.0 L595.5,263.1 L596.5,262.3 L597.5,261.4 L598.5,260.6 L599.5,259.8 L600.5,259.0 L601.5,258.2 L602.5,257.4 L603.5,256.7 L604.5,256.0 L605.5,255.4 L606.5,254.7 L607.5,254.1 L608.5,253.6 L609.5,253.0 L610.5,252.5 L611.5,252.0 L612.5,251.6 L613.5,251.2 L614.5,250.8 L615.5,250.5 L616.5,250.2 L617.5,249.9 L618.5,249.7 L619.5,249.5 L620.5,249.3 L621.5,249.1 L622.5,249.0 L623.5,248.9 L624.5,248.9 L625.5,248.8 L626.5,248.8 L627.5,248.9 L628.5,248.9 L629.5,249.0 L630.5,249.1 L631.5,249.2 L632.5,249.4 L633.5,249.6 L634.5,249.8 L635.5,250.0 L636.5,250.3 L637.5,250.6 L638.5,250.9 L639.5,251.3 L640.5,251.6 L641.5,252.0 L642.5,252.4 L643.5,252.8 L644.5,253.3 L645.5,253.8 L646.5,254.3 L647.5,254.8 L648.5,255.3 L649.5,255.9 L650.5,256.4 L651.5,257.0 L652.5,257.6 L653.5,258.3 L654.5,258.9 L655.5,259.6 L656.5,260.2 L657.5,260.9 L658.5,261.6 L659.5,262.3 L660.5,263.1 L661.5,263.8 L662.5,264.6 L663.5,265.4 L664.5,266.1 L665.5,266.9 L666.5,267.7 L667.5,268.5 L668.5,269.4 L669.5,270.2 L670.5,271.0 L671.5,271.9 L672.5,272.7 L673.5,273.6 L674.5,274.5 L675.5,275.3 L676.5,276.2 L677.5,277.1 L678.5,278.0 L679.5,278.9 L680.5,279.8 L681.5,280.7 L682.5,281.6 L683.5,282.5 L684.5,283.4 L685.5,284.3 L686.5,285.2 L687.5,286.1 L688.5,287.0 L689.5,287.9 L690.5,288.8 L691.5,289.6 L692.5,290.5 L693.5,291.4 L694.5,292.3 L695.5,293.2 L696.5,294.1 L697.5,294.9 L698.5,295.8 L699.5,296.6 L700.5,297.5 L701.5,298.3 L702.5,299.2 L703.5,300.0 L704.5,300.8 L705.5,301.6 L706.5,302.4 L707.5,303.2 L708.5,303.9 L709.5,304.7 L710.5,305.4 L711.5,306.2 L712.5,306.9 L713.5,307.6 L714.5,308.3 L715.5,308.9 L716.5,309.6 L717.5,310.2 L718.5,310.9 L719.5,311.5 L720.5,312.1 L721.5,312.7 L722.5,313.2 L723.5,313.8 L724.5,314.3 L725.5,314.8 L726.5,315.3 L727.5,315.8 L728.5,316.3 L729.5,316.8 L730.5,317.2 L731.5,317.7 L732.5,318.1 L733.5,318.5 L734.5,318.9 L735.5,319.3 L736.5,319.7 L737.5,320.1 L738.5,320.4 L739.5,320.8 L740.5,321.1 L741.5,321.5 L742.5,321.8 L743.5,322.1 L744.5,322.4 L745.5,322.7 L746.5,323.0 L747.5,323.3 L748.5,323.6 L749.5,323.9 L750.5,324.2 L751.5,324.4 L752.5,324.7 L753.5,324.9 L754.5,325.2 L755.5,325.4 L756.5,325.6 L757.5,325.9 L758.5,326.1 L759.5,326.3 L760.5,326.5 L761.5,326.7 L762.5,327.0 L763.5,327.2 L764.5,327.4 L765.5,327.6 L766.5,327.8 L767.5,328.0 L768.5,328.2 L769.5,328.4 L770.5,328.6 L771.5,328.8 L772.5,329.0 L773.5,329.2 L774.5,329.3 L775.5,329.5 L776.5,329.7 L777.5,329.9 L778.5,330.1 L779.5,330.2 L780.5,330.4 L781.5,330.5 L782.5,330.7 L783.5,330.8 L784.5,331.0 L785.5,331.1 L786.5,331.2 L787.5,331.4 L788.5,331.5 L789.5,331.6 L790.5,331.7 L791.5,331.8 L792.5,331.9 L793.5,331.9 L794.5,332.0 L795.5,332.1 L796.5,332.1 L797.5,332.2 L798.5,332.2 L799.5,332.2 L800.5,332.3 L801.5,332.3 L802.5,332.3 L803.5,332.3 L804.5,332.2 L805.5,332.2 L806.5,332.2 L807.5,332.1 L808.5,332.0" stroke="#00ffff" stroke-width="1.4" stroke-dasharray="4.5 4.2"/>
<path d="M457.5,334.2 L458.5,334.0 L459.5,333.9 L460.5,333.8 L461.5,333.6 L462.5,333.5 L463.5,333.4 L464.5,333.2 L465.5,333.1 L466.5,333.0 L467.5,332.8 L468.5,332.7 L469.5,332.5 L470.5,332.4 L471.5,332.3 L472.5,332.1 L473.5,332.0 L474.5,331.8 L475.5,331.7 L476.5,331.5 L477.5,331.3 L478.5,331.2 L479.5,331.0 L480.5,330.9 L481.5,330.7 L482.5,330.5 L483.5,330.4 L484.5,330.2 L485.5,330.0 L486.5,329.8 L487.5,329.6 L488.5,329.5 L489.5,329.3 L490.5,329.1 L491.5,328.9 L492.5,328.7 L493.5,328.5 L494.5,328.3 L495.5,328.0 L496.5,327.8 L497.5,327.6 L498.5,327.4 L499.5,327.2 L500.5,326.9 L501.5,326.7 L502.5,326.4 L503.5,326.2 L504.5,326.0 L505.5,325.7 L506.5,325.4 L507.5,325.2 L508.5,324.9 L509.5,324.6 L510.5,324.3 L511.5,324.1 L512.5,323.8 L513.5,323.5 L514.5,323.2 L515.5,322.9 L516.5,322.5 L517.5,322.2 L518.5,321.9 L519.5,321.6 L520.5,321.2 L521.5,320.9 L522.5,320.5 L523.5,320.2 L524.5,319.8 L525.5,319.4 L526.5,319.0 L527.5,318.7 L528.5,318.3 L529.5,317.9 L530.5,317.4 L531.5,317.0 L532.5,316.6 L533.5,316.2 L534.5,315.7 L535.5,315.3 L536.5,314.8 L537.5,314.3 L538.5,313.8 L539.5,313.4 L540.5,312.9 L541.5,312.4 L542.5,311.8 L543.5,311.3 L544.5,310.8 L545.5,310.2 L546.5,309.7 L547.5,309.1 L548.5,308.5 L549.5,308.0 L550.5,307.4 L551.5,306.8 L552.5,306.2 L553.5,305.5 L554.5,304.9 L555.5,304.3 L556.5,303.7 L557.5,303.0 L558.5,302.4 L559.5,301.8 L560.5,301.2 L561.5,300.5 L562.5,299.9 L563.5,299.3 L564.5,298.6 L565.5,298.0 L566.5,297.4 L567.5,296.8 L568.5,296.2 L569.5,295.6 L570.5,295.0 L571.5,294.4 L572.5,293.9 L573.5,293.3 L574.5,292.7 L575.5,292.2 L576.5,291.7 L577.5,291.2 L578.5,290.7 L579.5,290.2 L580.5,289.7 L581.5,289.3 L582.5,288.8 L583.5,288.4 L584.5,288.0 L585.5,287.6 L586.5,287.1 L587.5,286.7 L588.5,286.3 L589.5,285.9 L590.5,285.5 L591.5,285.2 L592.5,284.8 L593.5,284.4 L594.5,284.0 L595.5,283.7 L596.5,283.3 L597.5,282.9 L598.5,282.6 L599.5,282.2 L600.5,281.9 L601.5,281.6 L602.5,281.3 L603.5,281.0 L604.5,280.7 L605.5,280.4 L606.5,280.1 L607.5,279.8 L608.5,279.5 L609.5,279.3 L610.5,279.1 L611.5,278.8 L612.5,278.6 L613.5,278.4 L614.5,278.2 L615.5,278.0 L616.5,277.8 L617.5,277.7 L618.5,277.5 L619.5,277.4 L620.5,277.3 L621.5,277.2 L622.5,277.1 L623.5,277.0 L624.5,277.0 L625.5,276.9 L626.5,276.9 L627.5,276.9 L628.5,276.9 L629.5,276.9 L630.5,276.9 L631.5,277.0 L632.5,277.0 L633.5,277.1 L634.5,277.2 L635.5,277.3 L636.5,277.4 L637.5,277.6 L638.5,277.7 L639.5,277.8 L640.5,278.0 L641.5,278.2 L642.5,278.4 L643.5,278.6 L644.5,278.8 L645.5,279.0 L646.5,279.2 L647.5,279.5 L648.5,279.7 L649.5,280.0 L650.5,280.3 L651.5,280.6 L652.5,280.9 L653.5,281.2 L654.5,281.5 L655.5,281.8 L656.5,282.2 L657.5,282.5 L658.5,282.9 L659.5,283.2 L660.5,283.6 L661.5,284.0 L662.5,284.4 L663.5,284.7 L664.5,285.1 L665.5,285.5 L666.5,286.0 L667.5,286.4 L668.5,286.8 L669.5,287.2 L670.5,287.7 L671.5,288.1 L672.5,288.6 L673.5,289.0 L674.5,289.5 L675.5,290.0 L676.5,290.4 L677.5,290.9 L678.5,291.4 L679.5,291.9 L680.5,292.4 L681.5,292.9 L682.5,293.4 L683.5,293.9 L684.5,294.4 L685.5,294.9 L686.5,295.4 L687.5,295.9 L688.5,296.4 L689.5,297.0 L690.5,297.5 L691.5,298.0 L692.5,298.5 L693.5,299.0 L694.5,299.6 L695.5,300.1 L696.5,300.6 L697.5,301.2 L698.5,301.7 L699.5,302.2 L700.5,302.7 L701.5,303.3 L702.5,303.8 L703.5,304.3 L704.5,304.9 L705.5,305.4 L706.5,305.9 L707.5,306.4 L708.5,307.0 L709.5,307.5 L710.5,308.0 L711.5,308.5 L712.5,309.0 L713.5,309.5 L714.5,310.0 L715.5,310.5 L716.5,311.1 L717.5,311.5 L718.5,312.0 L719.5,312.5 L720.5,313.0 L721.5,313.5 L722.5,314.0 L723.5,314.5 L724.5,314.9 L725.5,315.4 L726.5,315.8 L727.5,316.3 L728.5,316.7 L729.5,317.2 L730.5,317.6 L731.5,318.0 L732.5,318.5 L733.5,318.9 L734.5,319.3 L735.5,319.7 L736.5,320.1 L737.5,320.5 L738.5,320.9 L739.5,321.3 L740.5,321.6 L741.5,322.0 L742.5,322.4 L743.5,322.7 L744.5,323.1 L745.5,323.5 L746.5,323.8 L747.5,324.1 L748.5,324.5 L749.5,324.8 L750.5,325.1 L751.5,325.4 L752.5,325.7 L753.5,326.0 L754.5,326.3 L755.5,326.6 L756.5,326.9 L757.5,327.2 L758.5,327.5 L759.5,327.7 L760.5,328.0 L761.5,328.3 L762.5,328.5 L763.5,328.8 L764.5,329.0 L765.5,329.2 L766.5,329.5 L767.5,329.7 L768.5,329.9 L769.5,330.1 L770.5,330.3 L771.5,330.5 L772.5,330.7 L773.5,330.9 L774.5,331.1 L775.5,331.2 L776.5,331.4 L777.5,331.6 L778.5,331.7 L779.5,331.9 L780.5,332.0 L781.5,332.2 L782.5,332.3 L783.5,332.4 L784.5,332.6 L785.5,332.7 L786.5,332.8 L787.5,332.9 L788.5,333.0 L789.5,333.1 L790.5,333.2 L791.5,333.2 L792.5,333.3 L793.5,333.4 L794.5,333.4 L795.5,333.5 L796.5,333.5 L797.5,333.6 L798.5,333.6 L799.5,333.6 L800.5,333.7 L801.5,333.7 L802.5,333.7 L803.5,333.7 L804.5,333.7 L805.5,333.7 L806.5,333.7 L807.5,333.7 L808.5,333.6" stroke="#ff00ff" stroke-width="1.4" stroke-dasharray="4.5 4.2"/>
</g>
<rect x="457.5" y="42.5" width="351.0" height="319.5" fill="none" stroke="#000" stroke-width="0.7"/>
<path d="M470.5,362.0 H795.5" stroke="#000" stroke-width="0.7"/>
<path d="M470.5,362.0 V367.4" stroke="#000" stroke-width="0.7"/>
<text x="470.5" y="381" font-size="8.6" text-anchor="middle">−4</text>
<path d="M551.75,362.0 V367.4" stroke="#000" stroke-width="0.7"/>
<text x="551.75" y="381" font-size="8.6" text-anchor="middle">−2</text>
<path d="M633.0,362.0 V367.4" stroke="#000" stroke-width="0.7"/>
<text x="633.0" y="381" font-size="8.6" text-anchor="middle">0</text>
<path d="M714.25,362.0 V367.4" stroke="#000" stroke-width="0.7"/>
<text x="714.25" y="381" font-size="8.6" text-anchor="middle">2</text>
<path d="M795.5,362.0 V367.4" stroke="#000" stroke-width="0.7"/>
<text x="795.5" y="381" font-size="8.6" text-anchor="middle">4</text>
<path d="M457.5,350.4 V52.49999999999994" stroke="#000" stroke-width="0.7"/>
<path d="M457.5,350.40 H452.1" stroke="#000" stroke-width="0.7"/>
<text transform="translate(445.3,350.40) rotate(-90)" font-size="8.6" text-anchor="middle">0.0</text>
<path d="M457.5,275.92 H452.1" stroke="#000" stroke-width="0.7"/>
<text transform="translate(445.3,275.92) rotate(-90)" font-size="8.6" text-anchor="middle">0.1</text>
<path d="M457.5,201.45 H452.1" stroke="#000" stroke-width="0.7"/>
<text transform="translate(445.3,201.45) rotate(-90)" font-size="8.6" text-anchor="middle">0.2</text>
<path d="M457.5,126.97 H452.1" stroke="#000" stroke-width="0.7"/>
<text transform="translate(445.3,126.97) rotate(-90)" font-size="8.6" text-anchor="middle">0.3</text>
<path d="M457.5,52.50 H452.1" stroke="#000" stroke-width="0.7"/>
<text transform="translate(445.3,52.50) rotate(-90)" font-size="8.6" text-anchor="middle">0.4</text>
<text x="633.0" y="401.5" font-size="8.6" text-anchor="middle">t–statistic</text>
<text transform="translate(424,202) rotate(-90)" font-size="8.6" text-anchor="middle">Frequency</text>
<text x="633.0" y="24" font-size="10.04" text-anchor="middle">Flexible Naming: Autocorrelation <tspan font-family="Liberation Serif" font-size="11.2">γ</tspan> Coverage by Homophily</text>
<rect x="685.5" y="52.5" width="109.5" height="125.0" fill="#fff" stroke="#000" stroke-width="0.7"/>
<path d="M692.7,62.92 H709.8" stroke="#000" stroke-width="1.55"/>
<text x="717.1" y="65.87" font-size="8.6">Baseline – 0.95</text>
<path d="M692.7,73.33 H709.8" stroke="#ff0000" stroke-width="1.55"/>
<text x="717.1" y="76.28" font-size="8.6">++Hetero – 0.496</text>
<path d="M692.7,83.75 H709.8" stroke="#0000ff" stroke-width="1.55"/>
<text x="717.1" y="86.70" font-size="8.6">Hetero – 0.652</text>
<path d="M692.7,94.17 H709.8" stroke="#00cd00" stroke-width="1.55"/>
<text x="717.1" y="97.12" font-size="8.6">Iso – 0.875</text>
<path d="M692.7,104.59 H709.8" stroke="#00ffff" stroke-width="1.55"/>
<text x="717.1" y="107.54" font-size="8.6">Homoph – 0.71</text>
<path d="M692.7,115.00 H709.8" stroke="#ff00ff" stroke-width="1.55"/>
<text x="717.1" y="117.95" font-size="8.6">++Homoph – 0.499</text>
<path d="M692.7,125.42 H709.8" stroke="#ff0000" stroke-width="1.55" stroke-dasharray="4.5 4.2"/>
<text x="717.1" y="128.37" font-size="8.6">++Hetero – 0.352</text>
<path d="M692.7,135.84 H709.8" stroke="#0000ff" stroke-width="1.55" stroke-dasharray="4.5 4.2"/>
<text x="717.1" y="138.79" font-size="8.6">Hetero – 0.419</text>
<path d="M692.7,146.25 H709.8" stroke="#00cd00" stroke-width="1.55" stroke-dasharray="4.5 4.2"/>
<text x="717.1" y="149.20" font-size="8.6">Iso – 0.724</text>
<path d="M692.7,156.67 H709.8" stroke="#00ffff" stroke-width="1.55" stroke-dasharray="4.5 4.2"/>
<text x="717.1" y="159.62" font-size="8.6">Homoph – 0.438</text>
<path d="M692.7,167.09 H709.8" stroke="#ff00ff" stroke-width="1.55" stroke-dasharray="4.5 4.2"/>
<text x="717.1" y="170.04" font-size="8.6">++Homoph – 0.385</text>
</svg></body></html>
